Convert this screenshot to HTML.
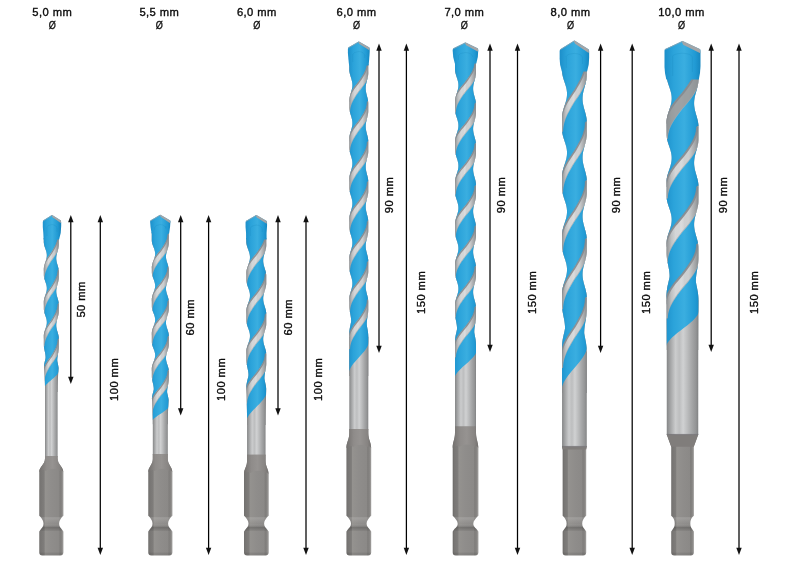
<!DOCTYPE html>
<html><head><meta charset="utf-8"><title>Drill bits</title>
<style>
html,body{margin:0;padding:0;background:#fff}
svg{display:block}
.t{font-family:"Liberation Sans",sans-serif;font-size:11.2px;letter-spacing:0.45px;fill:#0c0c0c;stroke:#0c0c0c;stroke-width:0.36px}
.o{font-family:"Liberation Sans",sans-serif;font-size:10.6px;fill:#0c0c0c;stroke:#0c0c0c;stroke-width:0.3px}
</style></head><body>
<svg width="800" height="566" viewBox="0 0 800 566">
<defs>
<linearGradient id="cyl0" gradientUnits="userSpaceOnUse" x1="45" y1="0" x2="57.6" y2="0"><stop offset="0" stop-color="#858687"/><stop offset="0.11" stop-color="#a2a3a4"/><stop offset="0.28" stop-color="#cbcccd"/><stop offset="0.40" stop-color="#bdbebf"/><stop offset="0.52" stop-color="#d0d1d2"/><stop offset="0.66" stop-color="#bbbcbd"/><stop offset="0.80" stop-color="#a5a6a7"/><stop offset="0.93" stop-color="#939495"/><stop offset="1" stop-color="#818283"/></linearGradient>
<linearGradient id="hex0" gradientUnits="userSpaceOnUse" x1="39.3" y1="0" x2="63.3" y2="0"><stop offset="0" stop-color="#686664"/><stop offset="0.05" stop-color="#777573"/><stop offset="0.2" stop-color="#7f7d7b"/><stop offset="0.245" stop-color="#94928f"/><stop offset="0.5" stop-color="#8f8d8b"/><stop offset="0.82" stop-color="#8b8987"/><stop offset="0.86" stop-color="#7f7d7b"/><stop offset="0.93" stop-color="#868482"/><stop offset="0.975" stop-color="#989694"/><stop offset="1" stop-color="#7a7876"/></linearGradient>
<linearGradient id="neck0" gradientUnits="userSpaceOnUse" x1="39.3" y1="0" x2="63.3" y2="0"><stop offset="0" stop-color="#73706e"/><stop offset="0.3" stop-color="#8f8c8a"/><stop offset="0.55" stop-color="#969391"/><stop offset="0.85" stop-color="#878482"/><stop offset="1" stop-color="#73706e"/></linearGradient>
<linearGradient id="gr0" x1="0" y1="0" x2="0" y2="1"><stop offset="0" stop-color="#fff" stop-opacity="0.16"/><stop offset="0.45" stop-color="#fff" stop-opacity="0.02"/><stop offset="0.75" stop-color="#000" stop-opacity="0.2"/><stop offset="1" stop-color="#000" stop-opacity="0.05"/></linearGradient>
<clipPath id="hc0"><path d="M45 456 L45 458.5 C45 464.57 39.3 466.6 39.3 472 L39.3 515.8 L40.8 517.3 C42.3 519.3 43.5 520.8 43.5 523.8 C43.5 526.8 41.8 528 40.3 530 L39.3 531.5 L39.3 552.6 Q39.3 555.6 42.3 555.6 L60.3 555.6 Q63.3 555.6 63.3 552.6 L63.3 531.5 L62.3 530 C60.8 528 59.1 526.8 59.1 523.8 C59.1 520.8 60.3 519.3 61.8 517.3 L63.3 515.8 L63.3 472 C63.3 466.6 57.6 464.57 57.6 458.5 L57.6 456Z"/></clipPath>
<linearGradient id="blue0" gradientUnits="userSpaceOnUse" x1="42.1" y1="0" x2="60.5" y2="0"><stop offset="0" stop-color="#1c8fca"/><stop offset="0.25" stop-color="#2ba3da"/><stop offset="0.55" stop-color="#3aaee0"/><stop offset="0.85" stop-color="#219ad4"/><stop offset="1" stop-color="#1787c0"/></linearGradient>
<clipPath id="clip0"><polygon points="58.8,238 58.8,239 58.8,240 58.8,241 58.8,242 58.8,243 58.8,244 58.79,245 58.72,246 58.59,247 58.4,248 58.17,249 57.9,250 57.61,251 57.32,252 57.04,253 56.78,254 56.56,255 56.39,256 56.27,257 56.23,258 56.24,259 56.33,260 56.47,261 56.67,262 56.91,263 57.19,264 57.48,265 57.77,266 58.05,267 58.3,268 58.51,269 58.67,270 58.77,271 58.8,272 58.8,273 58.8,274 58.8,275 58.8,276 58.8,277 58.79,278 58.72,279 58.58,280 58.39,281 58.16,282 57.89,283 57.6,284 57.31,285 57.03,286 56.77,287 56.55,288 56.38,289 56.27,290 56.23,291 56.25,292 56.33,293 56.48,294 56.68,295 56.92,296 57.2,297 57.49,298 57.78,299 58.06,300 58.31,301 58.51,302 58.67,303 58.77,304 58.8,305 58.8,306 58.8,307 58.8,308 58.8,309 58.8,310 58.8,311 58.78,312 58.71,313 58.57,314 58.37,315 58.13,316 57.86,317 57.57,318 57.28,319 57,320 56.75,321 56.53,322 56.37,323 56.26,324 56.22,325 56.25,326 56.34,327 56.5,328 56.7,329 56.95,330 57.22,331 57.52,332 57.81,333 58.08,334 58.33,335 58.53,336 58.68,337 58.77,338 58.8,339 58.8,340 58.8,341 58.8,342 58.8,343 58.8,344 58.8,345 58.8,346 58.8,347 58.77,348 58.71,349 58.6,350 58.47,351 58.32,352 58.15,353 57.97,354 57.8,355 57.64,356 57.5,357 57.39,358 57.3,359 57.26,360 57.31,361 57.49,362 57.68,363 57.88,364 58.09,365 58.27,366 58.44,367 58.57,368 58.52,369 58.46,370 58.4,371 58.34,372 58.27,373 58.21,374 58.14,375 58.08,376 58.02,377 57.96,378 57.9,379 57.84,380 57.79,381 57.74,382 57.7,383 57.67,384 57.64,385 57.62,386 57.6,387 57.6,388 57.6,389 57.6,390 57.6,391 57.6,392 45,392 45,391 45,390 45,389 45,388 45,387 44.98,386 44.96,385 44.93,384 44.9,383 44.86,382 44.81,381 44.76,380 44.7,379 44.64,378 44.58,377 44.52,376 44.46,375 44.39,374 44.33,373 44.26,372 44.2,371 44.14,370 44.08,369 44.03,368 43.98,367 43.97,366 44.1,365 44.27,364 44.47,363 44.69,362 44.93,361 45.17,360 45.39,359 45.59,358 45.6,357 45.54,356 45.43,355 45.29,354 45.12,353 44.92,352 44.72,351 44.51,350 44.32,349 44.14,348 44,347 43.89,346 43.82,345 43.8,344 43.8,343 43.8,342 43.8,341 43.8,340 43.8,339 43.8,338 43.8,337 43.8,336 43.85,335 43.97,334 44.17,333 44.42,332 44.72,331 45.05,330 45.39,329 45.73,328 46.05,327 46.33,326 46.55,325 46.72,324 46.81,323 46.82,322 46.75,321 46.61,320 46.41,319 46.14,318 45.84,317 45.5,316 45.16,315 44.82,314 44.51,313 44.24,312 44.03,311 43.88,310 43.81,309 43.8,308 43.8,307 43.8,306 43.8,305 43.8,304 43.8,303 43.8,302 43.86,301 43.99,300 44.19,299 44.45,298 44.75,297 45.08,296 45.43,295 45.76,294 46.08,293 46.35,292 46.57,291 46.73,290 46.81,289 46.82,288 46.74,287 46.6,286 46.38,285 46.11,284 45.8,283 45.47,282 45.13,281 44.79,280 44.48,279 44.22,278 44.01,277 43.87,276 43.8,275 43.8,274 43.8,273 43.8,272 43.8,271 43.8,270 43.8,269 43.86,268 44,267 44.2,266 44.46,265 44.76,264 45.09,263 45.44,262 45.77,261 46.09,260 46.36,259 46.58,258 46.73,257 46.81,256 46.82,255 46.74,254 46.59,253 46.38,252 46.1,251 45.79,250 45.46,249 45.11,248 44.78,247 44.47,246 44.21,245 44.01,244 43.87,243 43.8,242 43.8,241 43.8,240 43.8,239 43.8,238"/></clipPath>
<linearGradient id="st0" gradientUnits="userSpaceOnUse" x1="43.8" y1="0" x2="58.8" y2="0"><stop offset="0" stop-color="#9a9ea1"/><stop offset="0.15" stop-color="#cfd2d4"/><stop offset="0.45" stop-color="#eceeef"/><stop offset="0.55" stop-color="#d0d3d5"/><stop offset="0.7" stop-color="#e2e4e5"/><stop offset="0.88" stop-color="#b2b5b7"/><stop offset="1" stop-color="#8e9295"/></linearGradient>
<linearGradient id="cyl1" gradientUnits="userSpaceOnUse" x1="152.8" y1="0" x2="167.8" y2="0"><stop offset="0" stop-color="#858687"/><stop offset="0.11" stop-color="#a2a3a4"/><stop offset="0.28" stop-color="#cbcccd"/><stop offset="0.40" stop-color="#bdbebf"/><stop offset="0.52" stop-color="#d0d1d2"/><stop offset="0.66" stop-color="#bbbcbd"/><stop offset="0.80" stop-color="#a5a6a7"/><stop offset="0.93" stop-color="#939495"/><stop offset="1" stop-color="#818283"/></linearGradient>
<linearGradient id="hex1" gradientUnits="userSpaceOnUse" x1="148.3" y1="0" x2="172.3" y2="0"><stop offset="0" stop-color="#686664"/><stop offset="0.05" stop-color="#777573"/><stop offset="0.2" stop-color="#7f7d7b"/><stop offset="0.245" stop-color="#94928f"/><stop offset="0.5" stop-color="#8f8d8b"/><stop offset="0.82" stop-color="#8b8987"/><stop offset="0.86" stop-color="#7f7d7b"/><stop offset="0.93" stop-color="#868482"/><stop offset="0.975" stop-color="#989694"/><stop offset="1" stop-color="#7a7876"/></linearGradient>
<linearGradient id="neck1" gradientUnits="userSpaceOnUse" x1="148.3" y1="0" x2="172.3" y2="0"><stop offset="0" stop-color="#73706e"/><stop offset="0.3" stop-color="#8f8c8a"/><stop offset="0.55" stop-color="#969391"/><stop offset="0.85" stop-color="#878482"/><stop offset="1" stop-color="#73706e"/></linearGradient>
<linearGradient id="gr1" x1="0" y1="0" x2="0" y2="1"><stop offset="0" stop-color="#fff" stop-opacity="0.16"/><stop offset="0.45" stop-color="#fff" stop-opacity="0.02"/><stop offset="0.75" stop-color="#000" stop-opacity="0.2"/><stop offset="1" stop-color="#000" stop-opacity="0.05"/></linearGradient>
<clipPath id="hc1"><path d="M152.8 454 L152.8 459 C152.8 464.85 148.3 466.8 148.3 472 L148.3 515.8 L149.8 517.3 C151.3 519.3 152.5 520.8 152.5 523.8 C152.5 526.8 150.8 528 149.3 530 L148.3 531.5 L148.3 552.6 Q148.3 555.6 151.3 555.6 L169.3 555.6 Q172.3 555.6 172.3 552.6 L172.3 531.5 L171.3 530 C169.8 528 168.1 526.8 168.1 523.8 C168.1 520.8 169.3 519.3 170.8 517.3 L172.3 515.8 L172.3 472 C172.3 466.8 167.8 464.85 167.8 459 L167.8 454Z"/></clipPath>
<linearGradient id="blue1" gradientUnits="userSpaceOnUse" x1="150.05" y1="0" x2="170.55" y2="0"><stop offset="0" stop-color="#1c8fca"/><stop offset="0.25" stop-color="#2ba3da"/><stop offset="0.55" stop-color="#3aaee0"/><stop offset="0.85" stop-color="#219ad4"/><stop offset="1" stop-color="#1787c0"/></linearGradient>
<clipPath id="clip1"><polygon points="168.8,232 168.8,233 168.8,234.01 168.8,235.01 168.8,236.01 168.8,237.01 168.8,238.02 168.8,239.02 168.8,240.02 168.8,241.02 168.8,242.03 168.8,243.03 168.76,244.03 168.64,245.03 168.46,246.04 168.22,247.04 167.93,248.04 167.62,249.04 167.29,250.05 166.97,251.05 166.66,252.05 166.4,253.05 166.19,254.06 166.04,255.06 165.96,256.06 165.96,257.07 166.03,258.07 166.17,259.07 166.38,260.07 166.64,261.08 166.93,262.08 167.26,263.08 167.58,264.08 167.9,265.09 168.19,266.09 168.44,267.09 168.63,268.09 168.75,269.1 168.8,270.1 168.8,271.1 168.8,272.1 168.8,273.11 168.8,274.11 168.8,275.11 168.74,276.11 168.61,277.12 168.41,278.12 168.16,279.12 167.87,280.12 167.55,281.13 167.22,282.13 166.9,283.13 166.61,284.14 166.35,285.14 166.15,286.14 166.02,287.14 165.95,288.15 165.96,289.15 166.05,290.15 166.21,291.15 166.43,292.16 166.69,293.16 167,294.16 167.32,295.16 167.65,296.17 167.96,297.17 168.25,298.17 168.48,299.17 168.66,300.18 168.77,301.18 168.8,302.18 168.8,303.18 168.8,304.19 168.8,305.19 168.8,306.19 168.8,307.2 168.8,308.2 168.8,309.2 168.73,310.2 168.59,311.21 168.39,312.21 168.14,313.21 167.84,314.21 167.52,315.22 167.19,316.22 166.87,317.22 166.58,318.22 166.33,319.23 166.14,320.23 166.01,321.23 165.95,322.23 165.97,323.24 166.06,324.24 166.22,325.24 166.45,326.24 166.72,327.25 167.03,328.25 167.35,329.25 167.68,330.26 167.99,331.26 168.27,332.26 168.5,333.26 168.67,334.27 168.77,335.27 168.8,336.27 168.8,337.27 168.8,338.28 168.8,339.28 168.8,340.28 168.8,341.28 168.8,342.29 168.8,343.29 168.8,344.29 168.77,345.29 168.67,346.3 168.5,347.3 168.27,348.3 168,349.3 167.69,350.31 167.36,351.31 167.03,352.31 166.73,353.32 166.45,354.32 166.23,355.32 166.06,356.32 165.97,357.33 165.95,358.33 166.01,359.33 166.13,360.33 166.33,361.34 166.58,362.34 166.87,363.34 167.19,364.34 167.51,365.35 167.84,366.35 168.13,367.35 168.39,368.35 168.59,369.36 168.73,370.36 168.79,371.36 168.8,372.36 168.8,373.37 168.8,374.37 168.8,375.37 168.8,376.38 168.8,377.38 168.8,378.38 168.78,379.38 168.72,380.39 168.61,381.39 168.47,382.39 168.3,383.39 168.11,384.4 167.92,385.4 167.72,386.4 167.54,387.4 167.38,388.41 167.25,389.41 167.15,390.41 167.1,391.41 167.14,392.42 167.33,393.42 167.55,394.42 167.78,395.42 168,396.43 168.22,397.43 168.4,398.43 168.55,399.43 168.58,400.44 168.54,401.44 168.49,402.44 168.44,403.45 168.39,404.45 168.34,405.45 168.28,406.45 168.23,407.46 168.18,408.46 168.13,409.46 168.08,410.46 168.03,411.47 167.99,412.47 167.95,413.47 167.91,414.47 167.88,415.48 167.85,416.48 167.83,417.48 167.81,418.48 167.8,419.49 167.8,420.49 167.8,421.49 167.8,422.49 167.8,423.5 167.8,424.5 152.8,424.5 152.8,423.5 152.8,422.49 152.8,421.49 152.8,420.49 152.8,419.49 152.79,418.48 152.77,417.48 152.75,416.48 152.72,415.48 152.69,414.47 152.65,413.47 152.61,412.47 152.57,411.47 152.52,410.46 152.47,409.46 152.42,408.46 152.37,407.46 152.32,406.45 152.26,405.45 152.21,404.45 152.16,403.45 152.11,402.44 152.06,401.44 152.02,400.44 151.98,399.43 151.94,398.43 151.99,397.43 152.13,396.43 152.32,395.42 152.55,394.42 152.81,393.42 153.08,392.42 153.34,391.41 153.59,390.41 153.8,389.41 153.78,388.41 153.71,387.4 153.58,386.4 153.42,385.4 153.22,384.4 153,383.39 152.77,382.39 152.54,381.39 152.33,380.39 152.14,379.38 151.98,378.38 151.87,377.38 151.81,376.38 151.8,375.37 151.8,374.37 151.8,373.37 151.8,372.36 151.8,371.36 151.8,370.36 151.8,369.36 151.82,368.35 151.92,367.35 152.1,366.35 152.36,365.35 152.68,364.34 153.03,363.34 153.42,362.34 153.8,361.34 154.17,360.33 154.5,359.33 154.77,358.33 154.98,357.33 155.11,356.32 155.15,355.32 155.1,354.32 154.97,353.32 154.75,352.31 154.47,351.31 154.14,350.31 153.77,349.3 153.38,348.3 153,347.3 152.65,346.3 152.34,345.29 152.09,344.29 151.91,343.29 151.81,342.29 151.8,341.28 151.8,340.28 151.8,339.28 151.8,338.28 151.8,337.27 151.8,336.27 151.8,335.27 151.8,334.27 151.8,333.26 151.86,332.26 152,331.26 152.22,330.26 152.51,329.25 152.85,328.25 153.22,327.25 153.61,326.24 153.98,325.24 154.33,324.24 154.64,323.24 154.88,322.23 155.05,321.23 155.14,320.23 155.14,319.23 155.04,318.22 154.87,317.22 154.62,316.22 154.31,315.22 153.96,314.21 153.58,313.21 153.19,312.21 152.82,311.21 152.49,310.2 152.21,309.2 151.99,308.2 151.85,307.2 151.8,306.19 151.8,305.19 151.8,304.19 151.8,303.18 151.8,302.18 151.8,301.18 151.8,300.18 151.8,299.17 151.87,298.17 152.02,297.17 152.25,296.17 152.54,295.16 152.88,294.16 153.25,293.16 153.64,292.16 154.02,291.15 154.36,290.15 154.66,289.15 154.9,288.15 155.06,287.14 155.14,286.14 155.13,285.14 155.03,284.14 154.85,283.13 154.6,282.13 154.28,281.13 153.93,280.12 153.55,279.12 153.16,278.12 152.79,277.12 152.46,276.11 152.18,275.11 151.97,274.11 151.84,273.11 151.8,272.1 151.8,271.1 151.8,270.1 151.8,269.1 151.8,268.09 151.81,267.09 151.89,266.09 152.06,265.09 152.3,264.08 152.61,263.08 152.96,262.08 153.33,261.08 153.72,260.07 154.09,259.07 154.43,258.07 154.72,257.07 154.94,256.06 155.09,255.06 155.15,254.06 155.12,253.05 155,252.05 154.8,251.05 154.54,250.05 154.21,249.04 153.85,248.04 153.47,247.04 153.08,246.04 152.72,245.03 152.4,244.03 152.13,243.03 151.94,242.03 151.83,241.02 151.8,240.02 151.8,239.02 151.8,238.02 151.8,237.01 151.8,236.01 151.8,235.01 151.8,234.01 151.8,233 151.8,232"/></clipPath>
<linearGradient id="st1" gradientUnits="userSpaceOnUse" x1="151.8" y1="0" x2="168.8" y2="0"><stop offset="0" stop-color="#9a9ea1"/><stop offset="0.15" stop-color="#cfd2d4"/><stop offset="0.45" stop-color="#eceeef"/><stop offset="0.55" stop-color="#d0d3d5"/><stop offset="0.7" stop-color="#e2e4e5"/><stop offset="0.88" stop-color="#b2b5b7"/><stop offset="1" stop-color="#8e9295"/></linearGradient>
<linearGradient id="cyl2" gradientUnits="userSpaceOnUse" x1="247.05" y1="0" x2="265.55" y2="0"><stop offset="0" stop-color="#858687"/><stop offset="0.11" stop-color="#a2a3a4"/><stop offset="0.28" stop-color="#cbcccd"/><stop offset="0.40" stop-color="#bdbebf"/><stop offset="0.52" stop-color="#d0d1d2"/><stop offset="0.66" stop-color="#bbbcbd"/><stop offset="0.80" stop-color="#a5a6a7"/><stop offset="0.93" stop-color="#939495"/><stop offset="1" stop-color="#818283"/></linearGradient>
<linearGradient id="hex2" gradientUnits="userSpaceOnUse" x1="244.05" y1="0" x2="268.55" y2="0"><stop offset="0" stop-color="#686664"/><stop offset="0.05" stop-color="#777573"/><stop offset="0.2" stop-color="#7f7d7b"/><stop offset="0.245" stop-color="#94928f"/><stop offset="0.5" stop-color="#8f8d8b"/><stop offset="0.82" stop-color="#8b8987"/><stop offset="0.86" stop-color="#7f7d7b"/><stop offset="0.93" stop-color="#868482"/><stop offset="0.975" stop-color="#989694"/><stop offset="1" stop-color="#7a7876"/></linearGradient>
<linearGradient id="neck2" gradientUnits="userSpaceOnUse" x1="244.05" y1="0" x2="268.55" y2="0"><stop offset="0" stop-color="#73706e"/><stop offset="0.3" stop-color="#8f8c8a"/><stop offset="0.55" stop-color="#969391"/><stop offset="0.85" stop-color="#878482"/><stop offset="1" stop-color="#73706e"/></linearGradient>
<linearGradient id="gr2" x1="0" y1="0" x2="0" y2="1"><stop offset="0" stop-color="#fff" stop-opacity="0.16"/><stop offset="0.45" stop-color="#fff" stop-opacity="0.02"/><stop offset="0.75" stop-color="#000" stop-opacity="0.2"/><stop offset="1" stop-color="#000" stop-opacity="0.05"/></linearGradient>
<clipPath id="hc2"><path d="M247.05 454.8 L247.05 461 C247.05 466.85 244.05 468.8 244.05 474 L244.05 515.8 L245.55 517.3 C247.05 519.3 248.5 520.8 248.5 523.8 C248.5 526.8 246.55 528 245.05 530 L244.05 531.5 L244.05 552.6 Q244.05 555.6 247.05 555.6 L265.55 555.6 Q268.55 555.6 268.55 552.6 L268.55 531.5 L267.55 530 C266.05 528 264.1 526.8 264.1 523.8 C264.1 520.8 265.55 519.3 267.05 517.3 L268.55 515.8 L268.55 474 C268.55 468.8 265.55 466.85 265.55 461 L265.55 454.8Z"/></clipPath>
<linearGradient id="blue2" gradientUnits="userSpaceOnUse" x1="245.55" y1="0" x2="267.05" y2="0"><stop offset="0" stop-color="#1c8fca"/><stop offset="0.25" stop-color="#2ba3da"/><stop offset="0.55" stop-color="#3aaee0"/><stop offset="0.85" stop-color="#219ad4"/><stop offset="1" stop-color="#1787c0"/></linearGradient>
<clipPath id="clip2"><polygon points="266.3,238 266.3,239 266.3,240 266.3,241 266.3,242 266.3,243 266.3,244 266.3,245 266.24,246 266.13,247 265.97,248 265.75,249 265.5,250 265.22,251 264.92,252 264.61,253 264.31,254 264.02,255 263.76,256 263.54,257 263.36,258 263.24,259 263.18,260 263.18,261 263.24,262 263.35,263 263.52,264 263.74,265 264,266 264.28,267 264.58,268 264.89,269 265.19,270 265.48,271 265.73,272 265.95,273 266.12,274 266.24,275 266.29,276 266.3,277 266.3,278 266.3,279 266.3,280 266.3,281 266.3,282 266.3,283 266.25,284 266.15,285 265.99,286 265.78,287 265.53,288 265.25,289 264.95,290 264.64,291 264.34,292 264.05,293 263.79,294 263.56,295 263.38,296 263.25,297 263.18,298 263.18,299 263.23,300 263.34,301 263.5,302 263.72,303 263.97,304 264.25,305 264.55,306 264.86,307 265.16,308 265.45,309 265.71,310 265.93,311 266.11,312 266.23,313 266.29,314 266.3,315 266.3,316 266.3,317 266.3,318 266.3,319 266.3,320 266.3,321 266.3,322 266.3,323 266.28,324 266.21,325 266.07,326 265.89,327 265.66,328 265.39,329 265.1,330 264.8,331 264.49,332 264.19,333 263.91,334 263.67,335 263.46,336 263.31,337 263.21,338 263.17,339 263.19,340 263.28,341 263.41,342 263.6,343 263.84,344 264.11,345 264.4,346 264.7,347 265.01,348 265.31,349 265.58,350 265.82,351 266.02,352 266.17,353 266.27,354 266.3,355 266.3,356 266.3,357 266.3,358 266.3,359 266.3,360 266.3,361 266.3,362 266.3,363 266.27,364 266.21,365 266.11,366 265.99,367 265.84,368 265.67,369 265.49,370 265.3,371 265.12,372 264.95,373 264.79,374 264.66,375 264.55,376 264.47,377 264.43,378 264.48,379 264.65,380 264.85,381 265.06,382 265.28,383 265.49,384 265.68,385 265.86,386 266,387 266.12,388 266.18,389 266.16,390 266.14,391 266.12,392 266.09,393 266.07,394 266.04,395 266.02,396 265.99,397 265.97,398 265.94,399 265.92,400 265.89,401 265.86,402 265.84,403 265.81,404 265.79,405 265.76,406 265.74,407 265.72,408 265.69,409 265.67,410 265.65,411 265.64,412 265.62,413 265.6,414 265.59,415 265.58,416 265.57,417 265.56,418 265.55,419 265.55,420 265.55,421 265.55,422 265.55,423 265.55,424 265.55,425 247.05,425 247.05,424 247.05,423 247.05,422 247.05,421 247.05,420 247.05,419 247.04,418 247.03,417 247.02,416 247.01,415 247,414 246.98,413 246.96,412 246.95,411 246.93,410 246.91,409 246.88,408 246.86,407 246.84,406 246.81,405 246.79,404 246.76,403 246.74,402 246.71,401 246.68,400 246.66,399 246.63,398 246.61,397 246.58,396 246.56,395 246.53,394 246.51,393 246.48,392 246.46,391 246.44,390 246.42,389 246.4,388 246.38,387 246.4,386 246.49,385 246.62,384 246.79,383 246.98,382 247.21,381 247.45,380 247.71,379 247.96,378 248.19,377 248.4,376 248.5,375 248.46,374 248.38,373 248.25,372 248.1,371 247.92,370 247.72,369 247.51,368 247.29,367 247.08,366 246.88,365 246.7,364 246.54,363 246.43,362 246.34,361 246.3,360 246.3,359 246.3,358 246.3,357 246.3,356 246.3,355 246.3,354 246.3,353 246.3,352 246.33,351 246.42,350 246.59,349 246.81,348 247.09,347 247.4,346 247.75,345 248.11,344 248.47,343 248.82,342 249.14,341 249.42,340 249.65,339 249.83,338 249.93,337 249.97,336 249.94,335 249.84,334 249.67,333 249.44,332 249.16,331 248.84,330 248.49,329 248.13,328 247.77,327 247.43,326 247.11,325 246.83,324 246.6,323 246.43,322 246.33,321 246.3,320 246.3,319 246.3,318 246.3,317 246.3,316 246.3,315 246.3,314 246.3,313 246.3,312 246.3,311 246.37,310 246.5,309 246.69,308 246.94,307 247.24,306 247.57,305 247.93,304 248.29,303 248.64,302 248.98,301 249.28,300 249.54,299 249.75,298 249.89,297 249.96,296 249.96,295 249.9,294 249.76,293 249.56,292 249.3,291 249,290 248.67,289 248.31,288 247.95,287 247.6,286 247.26,285 246.96,284 246.71,283 246.51,282 246.37,281 246.31,280 246.3,279 246.3,278 246.3,277 246.3,276 246.3,275 246.3,274 246.3,273 246.36,272 246.48,271 246.67,270 246.91,269 247.21,268 247.54,267 247.89,266 248.25,265 248.61,264 248.95,263 249.25,262 249.52,261 249.73,260 249.88,259 249.96,258 249.97,257 249.91,256 249.78,255 249.58,254 249.33,253 249.04,252 248.7,251 248.35,250 247.99,249 247.63,248 247.3,247 246.99,246 246.73,245 246.53,244 246.39,243 246.31,242 246.3,241 246.3,240 246.3,239 246.3,238"/></clipPath>
<linearGradient id="st2" gradientUnits="userSpaceOnUse" x1="246.3" y1="0" x2="266.3" y2="0"><stop offset="0" stop-color="#9a9ea1"/><stop offset="0.15" stop-color="#cfd2d4"/><stop offset="0.45" stop-color="#eceeef"/><stop offset="0.55" stop-color="#d0d3d5"/><stop offset="0.7" stop-color="#e2e4e5"/><stop offset="0.88" stop-color="#b2b5b7"/><stop offset="1" stop-color="#8e9295"/></linearGradient>
<linearGradient id="cyl3" gradientUnits="userSpaceOnUse" x1="349.3" y1="0" x2="368.3" y2="0"><stop offset="0" stop-color="#858687"/><stop offset="0.11" stop-color="#a2a3a4"/><stop offset="0.28" stop-color="#cbcccd"/><stop offset="0.40" stop-color="#bdbebf"/><stop offset="0.52" stop-color="#d0d1d2"/><stop offset="0.66" stop-color="#bbbcbd"/><stop offset="0.80" stop-color="#a5a6a7"/><stop offset="0.93" stop-color="#939495"/><stop offset="1" stop-color="#818283"/></linearGradient>
<linearGradient id="hex3" gradientUnits="userSpaceOnUse" x1="346.45" y1="0" x2="371.15" y2="0"><stop offset="0" stop-color="#686664"/><stop offset="0.05" stop-color="#777573"/><stop offset="0.2" stop-color="#7f7d7b"/><stop offset="0.245" stop-color="#94928f"/><stop offset="0.5" stop-color="#8f8d8b"/><stop offset="0.82" stop-color="#8b8987"/><stop offset="0.86" stop-color="#7f7d7b"/><stop offset="0.93" stop-color="#868482"/><stop offset="0.975" stop-color="#989694"/><stop offset="1" stop-color="#7a7876"/></linearGradient>
<linearGradient id="neck3" gradientUnits="userSpaceOnUse" x1="346.45" y1="0" x2="371.15" y2="0"><stop offset="0" stop-color="#73706e"/><stop offset="0.3" stop-color="#8f8c8a"/><stop offset="0.55" stop-color="#969391"/><stop offset="0.85" stop-color="#878482"/><stop offset="1" stop-color="#73706e"/></linearGradient>
<linearGradient id="gr3" x1="0" y1="0" x2="0" y2="1"><stop offset="0" stop-color="#fff" stop-opacity="0.16"/><stop offset="0.45" stop-color="#fff" stop-opacity="0.02"/><stop offset="0.75" stop-color="#000" stop-opacity="0.2"/><stop offset="1" stop-color="#000" stop-opacity="0.05"/></linearGradient>
<clipPath id="hc3"><path d="M349.3 429 L349.3 433 C349.3 439.75 346.45 442 346.45 448 L346.45 515.8 L347.95 517.3 C349.45 519.3 351 520.8 351 523.8 C351 526.8 348.95 528 347.45 530 L346.45 531.5 L346.45 552.6 Q346.45 555.6 349.45 555.6 L368.15 555.6 Q371.15 555.6 371.15 552.6 L371.15 531.5 L370.15 530 C368.65 528 366.6 526.8 366.6 523.8 C366.6 520.8 368.15 519.3 369.65 517.3 L371.15 515.8 L371.15 448 C371.15 442 368.3 439.75 368.3 433 L368.3 429Z"/></clipPath>
<linearGradient id="blue3" gradientUnits="userSpaceOnUse" x1="347.9" y1="0" x2="369.7" y2="0"><stop offset="0" stop-color="#1c8fca"/><stop offset="0.25" stop-color="#2ba3da"/><stop offset="0.55" stop-color="#3aaee0"/><stop offset="0.85" stop-color="#219ad4"/><stop offset="1" stop-color="#1787c0"/></linearGradient>
<clipPath id="clip3"><polygon points="368.3,64 368.3,65 368.3,66 368.3,67 368.3,68 368.3,69 368.3,70 368.3,71 368.3,72 368.29,73 368.23,74 368.13,75 367.98,76 367.79,77 367.57,78 367.33,79 367.07,80 366.81,81 366.56,82 366.32,83 366.11,84 365.94,85 365.8,86 365.72,87 365.68,88 365.69,89 365.76,90 365.87,91 366.03,92 366.22,93 366.45,94 366.69,95 366.95,96 367.21,97 367.46,98 367.69,99 367.9,100 368.06,101 368.19,102 368.27,103 368.3,104 368.3,105 368.3,106 368.3,107 368.3,108 368.3,109 368.3,110 368.29,111 368.24,112 368.14,113 368,114 367.81,115 367.6,116 367.36,117 367.1,118 366.84,119 366.59,120 366.35,121 366.14,122 365.96,123 365.82,124 365.72,125 365.68,126 365.69,127 365.75,128 365.86,129 366.01,130 366.2,131 366.42,132 366.66,133 366.92,134 367.18,135 367.43,136 367.67,137 367.87,138 368.05,139 368.18,140 368.26,141 368.3,142 368.3,143 368.3,144 368.3,145 368.3,146 368.3,147 368.3,148 368.3,149 368.3,150 368.3,151 368.26,152 368.17,153 368.03,154 367.85,155 367.64,156 367.41,157 367.15,158 366.89,159 366.64,160 366.39,161 366.18,162 365.99,163 365.84,164 365.74,165 365.69,166 365.68,167 365.73,168 365.83,169 365.97,170 366.16,171 366.37,172 366.61,173 366.87,174 367.13,175 367.38,176 367.62,177 367.84,178 368.02,179 368.16,180 368.25,181 368.3,182 368.3,183 368.3,184 368.3,185 368.3,186 368.3,187 368.3,188 368.3,189 368.3,190 368.3,191 368.26,192 368.17,193 368.03,194 367.85,195 367.64,196 367.41,197 367.15,198 366.89,199 366.64,200 366.39,201 366.18,202 365.99,203 365.84,204 365.74,205 365.69,206 365.68,207 365.73,208 365.83,209 365.97,210 366.16,211 366.37,212 366.61,213 366.87,214 367.13,215 367.38,216 367.62,217 367.84,218 368.02,219 368.16,220 368.25,221 368.3,222 368.3,223 368.3,224 368.3,225 368.3,226 368.3,227 368.3,228 368.3,229 368.3,230 368.28,231 368.21,232 368.09,233 367.93,234 367.73,235 367.5,236 367.25,237 367,238 366.74,239 366.49,240 366.26,241 366.06,242 365.9,243 365.77,244 365.7,245 365.68,246 365.71,247 365.79,248 365.91,249 366.08,250 366.28,251 366.52,252 366.77,253 367.02,254 367.28,255 367.53,256 367.75,257 367.95,258 368.11,259 368.22,260 368.28,261 368.3,262 368.3,263 368.3,264 368.3,265 368.3,266 368.3,267 368.3,268 368.3,269 368.3,270 368.3,271 368.26,272 368.17,273 368.03,274 367.85,275 367.64,276 367.41,277 367.15,278 366.89,279 366.64,280 366.39,281 366.18,282 365.99,283 365.84,284 365.74,285 365.69,286 365.68,287 365.73,288 365.83,289 365.97,290 366.16,291 366.37,292 366.61,293 366.87,294 367.13,295 367.38,296 367.62,297 367.84,298 368.02,299 368.16,300 368.25,301 368.3,302 368.3,303 368.3,304 368.3,305 368.3,306 368.3,307 368.3,308 368.3,309 368.27,310 368.22,311 368.14,312 368.03,313 367.91,314 367.76,315 367.61,316 367.46,317 367.3,318 367.16,319 367.03,320 366.91,321 366.83,322 366.76,323 366.73,324 366.79,325 366.94,326 367.11,327 367.28,328 367.47,329 367.64,330 367.8,331 367.95,332 368.07,333 368.16,334 368.23,335 368.27,336 368.3,337 368.3,338 368.3,339 368.3,340 368.3,341 368.3,342 368.3,343 368.3,344 368.3,345 368.3,346 368.3,347 368.3,348 368.3,349 368.3,350 368.3,351 368.3,352 368.3,353 368.3,354 368.3,355 368.3,356 368.3,357 368.3,358 368.3,359 368.3,360 368.3,361 368.3,362 368.3,363 368.3,364 368.3,365 368.3,366 368.3,367 368.3,368 368.3,369 368.3,370 368.3,371 368.3,372 368.3,373 368.3,374 368.3,375 368.3,376 349.3,376 349.3,375 349.3,374 349.3,373 349.3,372 349.3,371 349.3,370 349.3,369 349.3,368 349.3,367 349.3,366 349.3,365 349.3,364 349.3,363 349.3,362 349.3,361 349.3,360 349.3,359 349.3,358 349.3,357 349.3,356 349.3,355 349.3,354 349.3,353 349.3,352 349.3,351 349.3,350 349.3,349 349.3,348 349.3,347 349.3,346 349.3,345 349.3,344 349.3,343 349.3,342 349.3,341 349.3,340 349.3,339 349.3,338 349.3,337 349.3,336 349.3,335 349.3,334 349.33,333 349.37,332 349.45,331 349.55,330 349.69,329 349.85,328 350.04,327 350.24,326 350.46,325 350.67,324 350.87,323 351.05,322 351.14,321 351.11,320 351.05,319 350.95,318 350.82,317 350.67,316 350.5,315 350.32,314 350.14,313 349.96,312 349.79,311 349.64,310 349.51,309 349.41,308 349.34,307 349.3,306 349.3,305 349.3,304 349.3,303 349.3,302 349.3,301 349.3,300 349.3,299 349.34,298 349.45,297 349.6,296 349.81,295 350.05,294 350.33,293 350.62,292 350.93,291 351.23,290 351.52,289 351.78,288 352,287 352.17,286 352.3,285 352.37,284 352.37,283 352.32,282 352.21,281 352.04,280 351.83,279 351.58,278 351.3,277 351,276 350.7,275 350.4,274 350.12,273 349.86,272 349.65,271 349.48,270 349.36,269 349.31,268 349.3,267 349.3,266 349.3,265 349.3,264 349.3,263 349.3,262 349.3,261 349.3,260 349.3,259 349.31,258 349.38,257 349.5,256 349.68,255 349.9,254 350.16,253 350.45,252 350.75,251 351.05,250 351.35,249 351.62,248 351.87,247 352.07,246 352.23,245 352.33,244 352.38,243 352.36,242 352.28,241 352.15,240 351.97,239 351.74,238 351.47,237 351.18,236 350.88,235 350.58,234 350.28,233 350.01,232 349.77,231 349.57,230 349.43,229 349.33,228 349.3,227 349.3,226 349.3,225 349.3,224 349.3,223 349.3,222 349.3,221 349.3,220 349.3,219 349.34,218 349.45,217 349.6,216 349.81,215 350.05,214 350.33,213 350.62,212 350.93,211 351.23,210 351.52,209 351.78,208 352,207 352.17,206 352.3,205 352.37,204 352.37,203 352.32,202 352.21,201 352.04,200 351.83,199 351.58,198 351.3,197 351,196 350.7,195 350.4,194 350.12,193 349.86,192 349.65,191 349.48,190 349.36,189 349.31,188 349.3,187 349.3,186 349.3,185 349.3,184 349.3,183 349.3,182 349.3,181 349.3,180 349.3,179 349.34,178 349.45,177 349.6,176 349.81,175 350.05,174 350.33,173 350.62,172 350.93,171 351.23,170 351.52,169 351.78,168 352,167 352.17,166 352.3,165 352.37,164 352.37,163 352.32,162 352.21,161 352.04,160 351.83,159 351.58,158 351.3,157 351,156 350.7,155 350.4,154 350.12,153 349.86,152 349.65,151 349.48,150 349.36,149 349.31,148 349.3,147 349.3,146 349.3,145 349.3,144 349.3,143 349.3,142 349.3,141 349.3,140 349.3,139 349.33,138 349.42,137 349.57,136 349.76,135 350,134 350.27,133 350.56,132 350.87,131 351.17,130 351.46,129 351.73,128 351.96,127 352.14,126 352.28,125 352.36,124 352.38,123 352.34,122 352.24,121 352.08,120 351.88,119 351.63,118 351.36,117 351.06,116 350.76,115 350.46,114 350.17,113 349.91,112 349.69,111 349.51,110 349.38,109 349.31,108 349.3,107 349.3,106 349.3,105 349.3,104 349.3,103 349.3,102 349.3,101 349.32,100 349.41,99 349.55,98 349.74,97 349.97,96 350.24,95 350.53,94 350.83,93 351.14,92 351.43,91 351.7,90 351.93,89 352.12,88 352.27,87 352.35,86 352.38,85 352.34,84 352.25,83 352.1,82 351.9,81 351.66,80 351.39,79 351.1,78 350.79,77 350.49,76 350.2,75 349.94,74 349.71,73 349.53,72 349.39,71 349.32,70 349.3,69 349.3,68 349.3,67 349.3,66 349.3,65 349.3,64"/></clipPath>
<linearGradient id="st3" gradientUnits="userSpaceOnUse" x1="349.3" y1="0" x2="368.3" y2="0"><stop offset="0" stop-color="#9a9ea1"/><stop offset="0.15" stop-color="#cfd2d4"/><stop offset="0.45" stop-color="#eceeef"/><stop offset="0.55" stop-color="#d0d3d5"/><stop offset="0.7" stop-color="#e2e4e5"/><stop offset="0.88" stop-color="#b2b5b7"/><stop offset="1" stop-color="#8e9295"/></linearGradient>
<linearGradient id="cyl4" gradientUnits="userSpaceOnUse" x1="455" y1="0" x2="476" y2="0"><stop offset="0" stop-color="#858687"/><stop offset="0.11" stop-color="#a2a3a4"/><stop offset="0.28" stop-color="#cbcccd"/><stop offset="0.40" stop-color="#bdbebf"/><stop offset="0.52" stop-color="#d0d1d2"/><stop offset="0.66" stop-color="#bbbcbd"/><stop offset="0.80" stop-color="#a5a6a7"/><stop offset="0.93" stop-color="#939495"/><stop offset="1" stop-color="#818283"/></linearGradient>
<linearGradient id="hex4" gradientUnits="userSpaceOnUse" x1="452.7" y1="0" x2="478.3" y2="0"><stop offset="0" stop-color="#686664"/><stop offset="0.05" stop-color="#777573"/><stop offset="0.2" stop-color="#7f7d7b"/><stop offset="0.245" stop-color="#94928f"/><stop offset="0.5" stop-color="#8f8d8b"/><stop offset="0.82" stop-color="#8b8987"/><stop offset="0.86" stop-color="#7f7d7b"/><stop offset="0.93" stop-color="#868482"/><stop offset="0.975" stop-color="#989694"/><stop offset="1" stop-color="#7a7876"/></linearGradient>
<linearGradient id="neck4" gradientUnits="userSpaceOnUse" x1="452.7" y1="0" x2="478.3" y2="0"><stop offset="0" stop-color="#73706e"/><stop offset="0.3" stop-color="#8f8c8a"/><stop offset="0.55" stop-color="#969391"/><stop offset="0.85" stop-color="#878482"/><stop offset="1" stop-color="#73706e"/></linearGradient>
<linearGradient id="gr4" x1="0" y1="0" x2="0" y2="1"><stop offset="0" stop-color="#fff" stop-opacity="0.16"/><stop offset="0.45" stop-color="#fff" stop-opacity="0.02"/><stop offset="0.75" stop-color="#000" stop-opacity="0.2"/><stop offset="1" stop-color="#000" stop-opacity="0.05"/></linearGradient>
<clipPath id="hc4"><path d="M455 426.5 L455 432.7 C455 439.45 452.7 441.7 452.7 447.7 L452.7 515.8 L454.2 517.3 C455.7 519.3 457.7 520.8 457.7 523.8 C457.7 526.8 455.2 528 453.7 530 L452.7 531.5 L452.7 552.6 Q452.7 555.6 455.7 555.6 L475.3 555.6 Q478.3 555.6 478.3 552.6 L478.3 531.5 L477.3 530 C475.8 528 473.3 526.8 473.3 523.8 C473.3 520.8 475.3 519.3 476.8 517.3 L478.3 515.8 L478.3 447.7 C478.3 441.7 476 439.45 476 432.7 L476 426.5Z"/></clipPath>
<linearGradient id="blue4" gradientUnits="userSpaceOnUse" x1="452.7" y1="0" x2="478.3" y2="0"><stop offset="0" stop-color="#1c8fca"/><stop offset="0.25" stop-color="#2ba3da"/><stop offset="0.55" stop-color="#3aaee0"/><stop offset="0.85" stop-color="#219ad4"/><stop offset="1" stop-color="#1787c0"/></linearGradient>
<clipPath id="clip4"><polygon points="476,62 476,63 476,64 476,65 476,66 476,67 476,68 476,69 476,70 476,71 476,72 475.99,73 475.92,74 475.8,75 475.64,76 475.44,77 475.2,78 474.94,79 474.67,80 474.39,81 474.12,82 473.86,83 473.63,84 473.43,85 473.28,86 473.17,87 473.11,88 473.11,89 473.16,90 473.26,91 473.4,92 473.59,93 473.82,94 474.07,95 474.34,96 474.62,97 474.9,98 475.16,99 475.4,100 475.61,101 475.78,102 475.9,103 475.98,104 476,105 476,106 476,107 476,108 476,109 476,110 476,111 476,112 475.99,113 475.94,114 475.84,115 475.69,116 475.5,117 475.27,118 475.02,119 474.74,120 474.47,121 474.19,122 473.93,123 473.69,124 473.48,125 473.32,126 473.19,127 473.12,128 473.1,129 473.14,130 473.22,131 473.36,132 473.54,133 473.76,134 474,135 474.27,136 474.55,137 474.82,138 475.09,139 475.34,140 475.56,141 475.74,142 475.87,143 475.96,144 476,145 476,146 476,147 476,148 476,149 476,150 476,151 476,152 476,153 475.96,154 475.88,155 475.74,156 475.56,157 475.34,158 475.09,159 474.83,160 474.55,161 474.27,162 474.01,163 473.76,164 473.54,165 473.36,166 473.23,167 473.14,168 473.1,169 473.12,170 473.19,171 473.31,172 473.48,173 473.69,174 473.93,175 474.19,176 474.46,177 474.74,178 475.01,179 475.27,180 475.49,181 475.69,182 475.84,183 475.94,184 475.99,185 476,186 476,187 476,188 476,189 476,190 476,191 476,192 476,193 476,194 476,195 475.97,196 475.89,197 475.75,198 475.58,199 475.36,200 475.12,201 474.85,202 474.58,203 474.3,204 474.03,205 473.78,206 473.56,207 473.38,208 473.24,209 473.14,210 473.1,211 473.12,212 473.18,213 473.3,214 473.46,215 473.66,216 473.9,217 474.16,218 474.43,219 474.71,220 474.98,221 475.24,222 475.47,223 475.67,224 475.82,225 475.93,226 475.99,227 476,228 476,229 476,230 476,231 476,232 476,233 476,234 476,235 475.99,236 475.93,237 475.81,238 475.65,239 475.45,240 475.22,241 474.96,242 474.69,243 474.41,244 474.14,245 473.88,246 473.65,247 473.45,248 473.29,249 473.18,250 473.11,251 473.11,252 473.15,253 473.25,254 473.39,255 473.58,256 473.8,257 474.05,258 474.32,259 474.6,260 474.88,261 475.14,262 475.38,263 475.59,264 475.77,265 475.9,266 475.97,267 476,268 476,269 476,270 476,271 476,272 476,273 476,274 476,275 476,276 475.95,277 475.85,278 475.71,279 475.52,280 475.29,281 475.04,282 474.77,283 474.49,284 474.22,285 473.95,286 473.71,287 473.5,288 473.33,289 473.2,290 473.13,291 473.1,292 473.13,293 473.21,294 473.34,295 473.52,296 473.73,297 473.98,298 474.24,299 474.52,300 474.79,301 475.06,302 475.31,303 475.53,304 475.72,305 475.86,306 475.96,307 476,308 476,309 476,310 476,311 476,312 476,313 476,314 476,315 476,316 475.98,317 475.93,318 475.85,319 475.75,320 475.62,321 475.47,322 475.31,323 475.15,324 474.98,325 474.82,326 474.67,327 474.54,328 474.43,329 474.34,330 474.29,331 474.26,332 474.37,333 474.54,334 474.72,335 474.91,336 475.11,337 475.29,338 475.47,339 475.62,340 475.74,341 475.85,342 475.92,343 475.97,344 476,345 476,346 476,347 476,348 476,349 476,350 476,351 476,352 476,353 476,354 476,355 476,356 476,357 476,358 476,359 476,360 476,361 476,362 476,363 476,364 476,365 476,366 476,367 476,368 476,369 476,370 476,371 476,372 476,373 476,374 476,375 476,376 476,377 476,378 476,379 476,380 476,381 455,381 455,380 455,379 455,378 455,377 455,376 455,375 455,374 455,373 455,372 455,371 455,370 455,369 455,368 455,367 455,366 455,365 455,364 455,363 455,362 455,361 455,360 455,359 455,358 455,357 455,356 455,355 455,354 455,353 455,352 455,351 455,350 455,349 455,348 455,347 455,346 455,345 455,344 455,343 455,342 455.03,341 455.08,340 455.16,339 455.27,338 455.41,337 455.58,336 455.77,335 455.99,334 456.21,333 456.44,332 456.66,331 456.87,330 457.04,329 457.02,328 456.97,327 456.88,326 456.75,325 456.61,324 456.43,323 456.25,322 456.05,321 455.86,320 455.67,319 455.49,318 455.33,317 455.2,316 455.1,315 455.03,314 455,313 455,312 455,311 455,310 455,309 455,308 455,307 455,306 455,305 455.03,304 455.13,303 455.28,302 455.48,301 455.73,300 456.02,299 456.33,298 456.65,297 456.98,296 457.3,295 457.59,294 457.85,293 458.07,292 458.24,291 458.35,290 458.4,289 458.39,288 458.31,287 458.18,286 457.99,285 457.75,284 457.48,283 457.18,282 456.85,281 456.53,280 456.21,279 455.91,278 455.63,277 455.4,276 455.21,275 455.08,274 455.01,273 455,272 455,271 455,270 455,269 455,268 455,267 455,266 455,265 455.02,264 455.09,263 455.23,262 455.42,261 455.65,260 455.93,259 456.23,258 456.56,257 456.88,256 457.2,255 457.5,254 457.78,253 458.01,252 458.19,251 458.32,250 458.39,249 458.4,248 458.34,247 458.22,246 458.05,245 457.83,244 457.57,243 457.27,242 456.95,241 456.63,240 456.3,239 455.99,238 455.71,237 455.46,236 455.26,235 455.12,234 455.03,233 455,232 455,231 455,230 455,229 455,228 455,227 455,226 455,225 455,224 455.05,223 455.17,222 455.34,221 455.55,220 455.82,219 456.11,218 456.43,217 456.75,216 457.08,215 457.39,214 457.67,213 457.92,212 458.13,211 458.28,210 458.37,209 458.4,208 458.37,207 458.28,206 458.13,205 457.92,204 457.68,203 457.39,202 457.08,201 456.76,200 456.43,199 456.11,198 455.82,197 455.56,196 455.34,195 455.17,194 455.06,193 455,192 455,191 455,190 455,189 455,188 455,187 455,186 455,185 455,184 455,183 455,182 455.05,181 455.15,180 455.32,179 455.53,178 455.79,177 456.08,176 456.39,175 456.72,174 457.04,173 457.36,172 457.64,171 457.9,170 458.11,169 458.26,168 458.36,167 458.4,166 458.38,165 458.29,164 458.15,163 457.95,162 457.7,161 457.42,160 457.11,159 456.79,158 456.46,157 456.15,156 455.85,155 455.58,154 455.36,153 455.18,152 455.06,151 455.01,150 455,149 455,148 455,147 455,146 455,145 455,144 455,143 455,142 455.03,141 455.11,140 455.26,139 455.46,138 455.71,137 455.99,136 456.3,135 456.62,134 456.95,133 457.26,132 457.56,131 457.83,130 458.05,129 458.22,128 458.34,127 458.4,126 458.39,125 458.32,124 458.19,123 458.01,122 457.78,121 457.51,120 457.21,119 456.89,118 456.56,117 456.24,116 455.93,115 455.66,114 455.42,113 455.23,112 455.09,111 455.02,110 455,109 455,108 455,107 455,106 455,105 455,104 455,103 455,102 455.01,101 455.08,100 455.22,99 455.4,98 455.64,97 455.91,96 456.21,95 456.53,94 456.86,93 457.18,92 457.48,91 457.76,90 457.99,89 458.18,88 458.31,87 458.39,86 458.4,85 458.35,84 458.24,83 458.07,82 457.85,81 457.59,80 457.29,79 456.98,78 456.65,77 456.33,76 456.02,75 455.73,74 455.48,73 455.28,72 455.13,71 455.03,70 455,69 455,68 455,67 455,66 455,65 455,64 455,63 455,62"/></clipPath>
<linearGradient id="st4" gradientUnits="userSpaceOnUse" x1="455" y1="0" x2="476" y2="0"><stop offset="0" stop-color="#9a9ea1"/><stop offset="0.15" stop-color="#cfd2d4"/><stop offset="0.45" stop-color="#eceeef"/><stop offset="0.55" stop-color="#d0d3d5"/><stop offset="0.7" stop-color="#e2e4e5"/><stop offset="0.88" stop-color="#b2b5b7"/><stop offset="1" stop-color="#8e9295"/></linearGradient>
<linearGradient id="cyl5" gradientUnits="userSpaceOnUse" x1="562.05" y1="0" x2="586.75" y2="0"><stop offset="0" stop-color="#858687"/><stop offset="0.11" stop-color="#a2a3a4"/><stop offset="0.28" stop-color="#cbcccd"/><stop offset="0.40" stop-color="#bdbebf"/><stop offset="0.52" stop-color="#d0d1d2"/><stop offset="0.66" stop-color="#bbbcbd"/><stop offset="0.80" stop-color="#a5a6a7"/><stop offset="0.93" stop-color="#939495"/><stop offset="1" stop-color="#818283"/></linearGradient>
<linearGradient id="hex5" gradientUnits="userSpaceOnUse" x1="562.65" y1="0" x2="586.15" y2="0"><stop offset="0" stop-color="#686664"/><stop offset="0.05" stop-color="#777573"/><stop offset="0.2" stop-color="#7f7d7b"/><stop offset="0.245" stop-color="#94928f"/><stop offset="0.5" stop-color="#8f8d8b"/><stop offset="0.82" stop-color="#8b8987"/><stop offset="0.86" stop-color="#7f7d7b"/><stop offset="0.93" stop-color="#868482"/><stop offset="0.975" stop-color="#989694"/><stop offset="1" stop-color="#7a7876"/></linearGradient>
<linearGradient id="neck5" gradientUnits="userSpaceOnUse" x1="562.65" y1="0" x2="586.15" y2="0"><stop offset="0" stop-color="#73706e"/><stop offset="0.3" stop-color="#8f8c8a"/><stop offset="0.55" stop-color="#969391"/><stop offset="0.85" stop-color="#878482"/><stop offset="1" stop-color="#73706e"/></linearGradient>
<linearGradient id="gr5" x1="0" y1="0" x2="0" y2="1"><stop offset="0" stop-color="#fff" stop-opacity="0.16"/><stop offset="0.45" stop-color="#fff" stop-opacity="0.02"/><stop offset="0.75" stop-color="#000" stop-opacity="0.2"/><stop offset="1" stop-color="#000" stop-opacity="0.05"/></linearGradient>
<clipPath id="hc5"><path d="M562.05 446.5 L562.65 449.5 L562.65 515.8 L564.15 517.3 C565.65 519.3 566.6 520.8 566.6 523.8 C566.6 526.8 565.15 528 563.65 530 L562.65 531.5 L562.65 552.6 Q562.65 555.6 565.65 555.6 L583.15 555.6 Q586.15 555.6 586.15 552.6 L586.15 531.5 L585.15 530 C583.65 528 582.2 526.8 582.2 523.8 C582.2 520.8 583.15 519.3 584.65 517.3 L586.15 515.8 L586.15 449.5 L586.75 446.5Z"/></clipPath>
<linearGradient id="blue5" gradientUnits="userSpaceOnUse" x1="559.65" y1="0" x2="589.15" y2="0"><stop offset="0" stop-color="#1c8fca"/><stop offset="0.25" stop-color="#2ba3da"/><stop offset="0.55" stop-color="#3aaee0"/><stop offset="0.85" stop-color="#219ad4"/><stop offset="1" stop-color="#1787c0"/></linearGradient>
<clipPath id="clip5"><polygon points="586.75,70 586.75,71 586.75,72 586.75,73 586.75,74 586.75,75 586.73,76 586.68,77 586.59,78 586.46,79 586.31,80 586.12,81 585.91,82 585.67,83 585.42,84 585.15,85 584.87,86 584.59,87 584.31,88 584.04,89 583.77,90 583.52,91 583.3,92 583.09,93 582.91,94 582.76,95 582.65,96 582.57,97 582.53,98 582.52,99 582.55,100 582.62,101 582.72,102 582.86,103 583.03,104 583.23,105 583.45,106 583.69,107 583.95,108 584.22,109 584.5,110 584.78,111 585.06,112 585.33,113 585.59,114 585.83,115 586.05,116 586.25,117 586.42,118 586.55,119 586.65,120 586.72,121 586.75,122 586.75,123 586.75,124 586.75,125 586.75,126 586.75,127 586.75,128 586.75,129 586.75,130 586.75,131 586.75,132 586.75,133 586.75,134 586.73,135 586.67,136 586.58,137 586.45,138 586.29,139 586.11,140 585.89,141 585.65,142 585.4,143 585.13,144 584.85,145 584.57,146 584.29,147 584.02,148 583.76,149 583.51,150 583.28,151 583.08,152 582.9,153 582.75,154 582.64,155 582.57,156 582.52,157 582.52,158 582.56,159 582.63,160 582.73,161 582.87,162 583.04,163 583.24,164 583.47,165 583.71,166 583.97,167 584.24,168 584.52,169 584.8,170 585.08,171 585.35,172 585.61,173 585.85,174 586.07,175 586.26,176 586.43,177 586.56,178 586.66,179 586.72,180 586.75,181 586.75,182 586.75,183 586.75,184 586.75,185 586.75,186 586.75,187 586.75,188 586.75,189 586.75,190 586.75,191 586.75,192 586.75,193 586.72,194 586.65,195 586.55,196 586.41,197 586.24,198 586.04,199 585.82,200 585.58,201 585.32,202 585.05,203 584.77,204 584.49,205 584.21,206 583.94,207 583.68,208 583.44,209 583.22,210 583.02,211 582.85,212 582.72,213 582.62,214 582.55,215 582.52,216 582.53,217 582.57,218 582.65,219 582.77,220 582.92,221 583.1,222 583.31,223 583.54,224 583.79,225 584.05,226 584.33,227 584.61,228 584.89,229 585.16,230 585.43,231 585.68,232 585.92,233 586.13,234 586.31,235 586.47,236 586.59,237 586.68,238 586.73,239 586.75,240 586.75,241 586.75,242 586.75,243 586.75,244 586.75,245 586.75,246 586.75,247 586.75,248 586.75,249 586.75,250 586.75,251 586.72,252 586.66,253 586.56,254 586.42,255 586.26,256 586.06,257 585.84,258 585.6,259 585.35,260 585.08,261 584.8,262 584.52,263 584.24,264 583.96,265 583.7,266 583.46,267 583.24,268 583.04,269 582.87,270 582.73,271 582.62,272 582.55,273 582.52,274 582.52,275 582.57,276 582.64,277 582.76,278 582.9,279 583.08,280 583.28,281 583.51,282 583.76,283 584.02,284 584.3,285 584.58,286 584.86,287 585.14,288 585.4,289 585.66,290 585.89,291 586.11,292 586.3,293 586.46,294 586.58,295 586.67,296 586.73,297 586.75,298 586.75,299 586.75,300 586.75,301 586.75,302 586.75,303 586.75,304 586.75,305 586.75,306 586.75,307 586.75,308 586.75,309 586.75,310 586.72,311 586.68,312 586.61,313 586.53,314 586.42,315 586.3,316 586.16,317 586.02,318 585.86,319 585.7,320 585.53,321 585.36,322 585.19,323 585.03,324 584.88,325 584.73,326 584.61,327 584.49,328 584.39,329 584.32,330 584.26,331 584.22,332 584.21,333 584.34,334 584.5,335 584.68,336 584.87,337 585.06,338 585.26,339 585.46,340 585.65,341 585.83,342 586,343 586.15,344 586.29,345 586.41,346 586.51,347 586.59,348 586.65,349 586.7,350 586.73,351 586.75,352 586.75,353 586.75,354 586.75,355 586.75,356 586.75,357 586.75,358 586.75,359 586.75,360 586.75,361 586.75,362 586.75,363 586.75,364 586.75,365 586.75,366 586.75,367 586.75,368 586.75,369 586.75,370 586.75,371 586.75,372 586.75,373 586.75,374 586.75,375 586.75,376 586.75,377 586.75,378 586.75,379 586.75,380 586.75,381 586.75,382 586.75,383 586.75,384 586.75,385 586.75,386 586.75,387 586.75,388 586.75,389 586.75,390 586.75,391 586.75,392 586.75,393 562.05,393 562.05,392 562.05,391 562.05,390 562.05,389 562.05,388 562.05,387 562.05,386 562.05,385 562.05,384 562.05,383 562.05,382 562.05,381 562.05,380 562.05,379 562.05,378 562.05,377 562.05,376 562.05,375 562.05,374 562.05,373 562.05,372 562.05,371 562.05,370 562.05,369 562.05,368 562.05,367 562.05,366 562.05,365 562.05,364 562.05,363 562.05,362 562.05,361 562.05,360 562.05,359 562.05,358 562.05,357 562.05,356 562.05,355 562.05,354 562.05,353 562.05,352 562.05,351 562.05,350 562.05,349 562.05,348 562.05,347 562.08,346 562.12,345 562.18,344 562.26,343 562.37,342 562.49,341 562.64,340 562.8,339 562.99,338 563.19,337 563.41,336 563.63,335 563.86,334 564.09,333 564.32,332 564.54,331 564.74,330 564.93,329 565.03,328 565.01,327 564.96,326 564.88,325 564.79,324 564.67,323 564.53,322 564.37,321 564.2,320 564.02,319 563.82,318 563.63,317 563.43,316 563.23,315 563.04,314 562.86,313 562.69,312 562.54,311 562.4,310 562.28,309 562.19,308 562.12,307 562.07,306 562.05,305 562.05,304 562.05,303 562.05,302 562.05,301 562.05,300 562.05,299 562.05,298 562.05,297 562.05,296 562.05,295 562.05,294 562.05,293 562.09,292 562.16,291 562.28,290 562.44,289 562.64,288 562.87,287 563.13,286 563.41,285 563.72,284 564.03,283 564.36,282 564.69,281 565.02,280 565.34,279 565.64,278 565.93,277 566.19,276 566.42,275 566.62,274 566.78,273 566.9,272 566.98,271 567.02,270 567.01,269 566.96,268 566.86,267 566.73,266 566.55,265 566.35,264 566.1,263 565.83,262 565.54,261 565.23,260 564.91,259 564.58,258 564.25,257 563.93,256 563.61,255 563.32,254 563.04,253 562.79,252 562.57,251 562.39,250 562.24,249 562.13,248 562.07,247 562.05,246 562.05,245 562.05,244 562.05,243 562.05,242 562.05,241 562.05,240 562.05,239 562.05,238 562.05,237 562.05,236 562.05,235 562.08,234 562.15,233 562.27,232 562.43,231 562.62,230 562.84,229 563.1,228 563.38,227 563.68,226 564,225 564.33,224 564.66,223 564.99,222 565.31,221 565.61,220 565.9,219 566.16,218 566.4,217 566.6,216 566.76,215 566.89,214 566.97,213 567.01,212 567.01,211 566.96,210 566.87,209 566.74,208 566.57,207 566.37,206 566.13,205 565.86,204 565.57,203 565.26,202 564.94,201 564.61,200 564.28,199 563.96,198 563.64,197 563.34,196 563.07,195 562.81,194 562.59,193 562.4,192 562.25,191 562.14,190 562.07,189 562.05,188 562.05,187 562.05,186 562.05,185 562.05,184 562.05,183 562.05,182 562.05,181 562.05,180 562.05,179 562.05,178 562.05,177 562.06,176 562.1,175 562.18,174 562.31,173 562.48,172 562.68,171 562.92,170 563.18,169 563.47,168 563.78,167 564.1,166 564.43,165 564.76,164 565.08,163 565.4,162 565.7,161 565.98,160 566.24,159 566.46,158 566.65,157 566.81,156 566.92,155 566.99,154 567.02,153 567,152 566.94,151 566.84,150 566.7,149 566.52,148 566.3,147 566.05,146 565.78,145 565.48,144 565.17,143 564.84,142 564.52,141 564.19,140 563.86,139 563.55,138 563.26,137 562.99,136 562.74,135 562.53,134 562.35,133 562.21,132 562.12,131 562.06,130 562.05,129 562.05,128 562.05,127 562.05,126 562.05,125 562.05,124 562.05,123 562.05,122 562.05,121 562.05,120 562.05,119 562.05,118 562.06,117 562.1,116 562.19,115 562.32,114 562.49,113 562.7,112 562.94,111 563.2,110 563.49,109 563.8,108 564.12,107 564.45,106 564.78,105 565.11,104 565.42,103 565.72,102 566,101 566.25,100 566.48,99 566.66,98 566.81,97 566.93,96 566.99,95 567.02,94 567,93 566.94,92 566.83,91 566.68,90 566.5,89 566.28,88 566.03,87 565.76,86 565.46,85 565.15,84 564.82,83 564.49,82 564.16,81 563.84,80 563.53,79 563.24,78 562.97,77 562.73,76 562.52,75 562.34,74 562.21,73 562.11,72 562.06,71 562.05,70"/></clipPath>
<linearGradient id="st5" gradientUnits="userSpaceOnUse" x1="562.05" y1="0" x2="586.75" y2="0"><stop offset="0" stop-color="#9a9ea1"/><stop offset="0.15" stop-color="#cfd2d4"/><stop offset="0.45" stop-color="#eceeef"/><stop offset="0.55" stop-color="#d0d3d5"/><stop offset="0.7" stop-color="#e2e4e5"/><stop offset="0.88" stop-color="#b2b5b7"/><stop offset="1" stop-color="#8e9295"/></linearGradient>
<linearGradient id="cyl6" gradientUnits="userSpaceOnUse" x1="666.75" y1="0" x2="698.25" y2="0"><stop offset="0" stop-color="#858687"/><stop offset="0.11" stop-color="#a2a3a4"/><stop offset="0.28" stop-color="#cbcccd"/><stop offset="0.40" stop-color="#bdbebf"/><stop offset="0.52" stop-color="#d0d1d2"/><stop offset="0.66" stop-color="#bbbcbd"/><stop offset="0.80" stop-color="#a5a6a7"/><stop offset="0.93" stop-color="#939495"/><stop offset="1" stop-color="#818283"/></linearGradient>
<linearGradient id="hex6" gradientUnits="userSpaceOnUse" x1="671.25" y1="0" x2="693.75" y2="0"><stop offset="0" stop-color="#686664"/><stop offset="0.05" stop-color="#777573"/><stop offset="0.2" stop-color="#7f7d7b"/><stop offset="0.245" stop-color="#94928f"/><stop offset="0.5" stop-color="#8f8d8b"/><stop offset="0.82" stop-color="#8b8987"/><stop offset="0.86" stop-color="#7f7d7b"/><stop offset="0.93" stop-color="#868482"/><stop offset="0.975" stop-color="#989694"/><stop offset="1" stop-color="#7a7876"/></linearGradient>
<linearGradient id="neck6" gradientUnits="userSpaceOnUse" x1="671.25" y1="0" x2="693.75" y2="0"><stop offset="0" stop-color="#73706e"/><stop offset="0.3" stop-color="#8f8c8a"/><stop offset="0.55" stop-color="#969391"/><stop offset="0.85" stop-color="#878482"/><stop offset="1" stop-color="#73706e"/></linearGradient>
<linearGradient id="gr6" x1="0" y1="0" x2="0" y2="1"><stop offset="0" stop-color="#fff" stop-opacity="0.16"/><stop offset="0.45" stop-color="#fff" stop-opacity="0.02"/><stop offset="0.75" stop-color="#000" stop-opacity="0.2"/><stop offset="1" stop-color="#000" stop-opacity="0.05"/></linearGradient>
<clipPath id="hc6"><path d="M666.75 434.5 L671.25 446.8 L671.25 515.8 L672.75 517.3 C674.25 519.3 674.7 520.8 674.7 523.8 C674.7 526.8 673.75 528 672.25 530 L671.25 531.5 L671.25 552.6 Q671.25 555.6 674.25 555.6 L690.75 555.6 Q693.75 555.6 693.75 552.6 L693.75 531.5 L692.75 530 C691.25 528 690.3 526.8 690.3 523.8 C690.3 520.8 690.75 519.3 692.25 517.3 L693.75 515.8 L693.75 446.8 L698.25 434.5Z"/></clipPath>
<linearGradient id="blue6" gradientUnits="userSpaceOnUse" x1="664.5" y1="0" x2="700.5" y2="0"><stop offset="0" stop-color="#1c8fca"/><stop offset="0.25" stop-color="#2ba3da"/><stop offset="0.55" stop-color="#3aaee0"/><stop offset="0.85" stop-color="#219ad4"/><stop offset="1" stop-color="#1787c0"/></linearGradient>
<clipPath id="clip6"><polygon points="698.5,78 698.5,79 698.49,80 698.43,81 698.35,82 698.22,83 698.07,84 697.88,85 697.67,86 697.43,87 697.18,88 696.91,89 696.63,90 696.34,91 696.05,92 695.77,93 695.49,94 695.23,95 694.99,96 694.77,97 694.57,98 694.41,99 694.27,100 694.17,101 694.11,102 694.08,103 694.1,104 694.14,105 694.23,106 694.35,107 694.5,108 694.68,109 694.9,110 695.13,111 695.38,112 695.65,113 695.93,114 696.22,115 696.51,116 696.79,117 697.07,118 697.33,119 697.57,120 697.8,121 698,122 698.16,123 698.3,124 698.4,125 698.47,126 698.5,127 698.5,128 698.5,129 698.5,130 698.5,131 698.5,132 698.5,133 698.5,134 698.5,135 698.5,136 698.5,137 698.5,138 698.5,139 698.47,140 698.41,141 698.31,142 698.17,143 698.01,144 697.81,145 697.59,146 697.35,147 697.08,148 696.81,149 696.53,150 696.24,151 695.95,152 695.67,153 695.4,154 695.14,155 694.91,156 694.7,157 694.51,158 694.36,159 694.24,160 694.15,161 694.1,162 694.08,163 694.11,164 694.17,165 694.27,166 694.4,167 694.56,168 694.76,169 694.98,170 695.22,171 695.48,172 695.75,173 696.04,174 696.32,175 696.61,176 696.89,177 697.16,178 697.42,179 697.66,180 697.87,181 698.06,182 698.22,183 698.34,184 698.43,185 698.48,186 698.5,187 698.5,188 698.5,189 698.5,190 698.5,191 698.5,192 698.5,193 698.5,194 698.5,195 698.5,196 698.5,197 698.5,198 698.5,199 698.5,200 698.49,201 698.45,202 698.38,203 698.26,204 698.12,205 697.94,206 697.74,207 697.51,208 697.26,209 696.99,210 696.71,211 696.43,212 696.14,213 695.85,214 695.57,215 695.31,216 695.06,217 694.83,218 694.63,219 694.45,220 694.31,221 694.2,222 694.13,223 694.09,224 694.09,225 694.13,226 694.2,227 694.31,228 694.45,229 694.63,230 694.83,231 695.06,232 695.31,233 695.57,234 695.85,235 696.14,236 696.42,237 696.71,238 696.99,239 697.25,240 697.51,241 697.73,242 697.94,243 698.12,244 698.26,245 698.38,246 698.45,247 698.49,248 698.5,249 698.5,250 698.5,251 698.5,252 698.5,253 698.5,254 698.5,255 698.5,256 698.5,257 698.5,258 698.47,259 698.43,260 698.36,261 698.27,262 698.16,263 698.04,264 697.9,265 697.75,266 697.59,267 697.43,268 697.26,269 697.08,270 696.91,271 696.74,272 696.59,273 696.44,274 696.3,275 696.18,276 696.07,277 695.99,278 695.92,279 695.88,280 695.85,281 695.92,282 696.08,283 696.25,284 696.44,285 696.64,286 696.84,287 697.04,288 697.24,289 697.43,290 697.61,291 697.78,292 697.93,293 698.06,294 698.18,295 698.28,296 698.35,297 698.41,298 698.45,299 698.45,300 698.44,301 698.44,302 698.43,303 698.43,304 698.42,305 698.42,306 698.41,307 698.41,308 698.4,309 698.39,310 698.39,311 698.38,312 698.38,313 698.37,314 698.37,315 698.36,316 698.35,317 698.35,318 698.34,319 698.34,320 698.33,321 698.33,322 698.32,323 698.32,324 698.31,325 698.31,326 698.3,327 698.3,328 698.29,329 698.29,330 698.28,331 698.28,332 698.28,333 698.27,334 698.27,335 698.27,336 698.26,337 698.26,338 698.26,339 698.26,340 698.25,341 698.25,342 698.25,343 698.25,344 698.25,345 698.25,346 698.25,347 698.25,348 698.25,349 698.25,350 666.75,350 666.75,349 666.75,348 666.75,347 666.75,346 666.75,345 666.75,344 666.75,343 666.75,342 666.75,341 666.74,340 666.74,339 666.74,338 666.74,337 666.73,336 666.73,335 666.73,334 666.72,333 666.72,332 666.72,331 666.71,330 666.71,329 666.7,328 666.7,327 666.69,326 666.69,325 666.68,324 666.68,323 666.67,322 666.67,321 666.66,320 666.66,319 666.65,318 666.65,317 666.64,316 666.63,315 666.63,314 666.62,313 666.62,312 666.61,311 666.61,310 666.6,309 666.59,308 666.59,307 666.58,306 666.58,305 666.57,304 666.57,303 666.56,302 666.56,301 666.55,300 666.55,299 666.54,298 666.54,297 666.53,296 666.53,295 666.56,294 666.61,293 666.69,292 666.78,291 666.9,290 667.04,289 667.2,288 667.38,287 667.58,286 667.8,285 668.02,284 668.26,283 668.49,282 668.73,281 668.96,280 669.17,279 669.38,278 669.56,277 669.6,276 669.57,275 669.52,274 669.43,273 669.33,272 669.2,271 669.06,270 668.89,269 668.71,268 668.53,267 668.33,266 668.13,265 667.92,264 667.72,263 667.53,262 667.34,261 667.17,260 667.01,259 666.87,258 666.75,257 666.65,256 666.58,255 666.53,254 666.5,253 666.5,252 666.5,251 666.5,250 666.5,249 666.5,248 666.5,247 666.5,246 666.5,245 666.5,244 666.51,243 666.57,242 666.67,241 666.81,240 666.99,239 667.2,238 667.45,237 667.72,236 668.02,235 668.33,234 668.66,233 669,232 669.34,231 669.67,230 669.99,229 670.3,228 670.59,227 670.85,226 671.09,225 671.28,224 671.45,223 671.57,222 671.65,221 671.68,220 671.67,219 671.62,218 671.53,217 671.39,216 671.21,215 671,214 670.76,213 670.49,212 670.19,211 669.88,210 669.55,209 669.21,208 668.87,207 668.54,206 668.21,205 667.91,204 667.62,203 667.35,202 667.12,201 666.91,200 666.75,199 666.63,198 666.54,197 666.5,196 666.5,195 666.5,194 666.5,193 666.5,192 666.5,191 666.5,190 666.5,189 666.5,188 666.5,187 666.5,186 666.5,185 666.5,184 666.5,183 666.5,182 666.53,181 666.6,180 666.71,179 666.86,178 667.06,177 667.28,176 667.54,175 667.82,174 668.13,173 668.45,172 668.78,171 669.12,170 669.45,169 669.79,168 670.1,167 670.41,166 670.69,165 670.94,164 671.16,163 671.35,162 671.49,161 671.6,160 671.66,159 671.68,158 671.66,157 671.59,156 671.48,155 671.33,154 671.14,153 670.92,152 670.67,151 670.39,150 670.08,149 669.76,148 669.43,147 669.09,146 668.76,145 668.42,144 668.1,143 667.8,142 667.52,141 667.26,140 667.04,139 666.85,138 666.7,137 666.59,136 666.52,135 666.5,134 666.5,133 666.5,132 666.5,131 666.5,130 666.5,129 666.5,128 666.5,127 666.5,126 666.5,125 666.5,124 666.5,123 666.5,122 666.55,121 666.63,120 666.76,119 666.93,118 667.13,117 667.37,116 667.64,115 667.93,114 668.24,113 668.57,112 668.9,111 669.24,110 669.57,109 669.9,108 670.21,107 670.51,106 670.78,105 671.02,104 671.23,103 671.4,102 671.54,101 671.63,100 671.68,99 671.68,98 671.64,97 671.56,96 671.43,95 671.27,94 671.07,93 670.83,92 670.57,91 670.28,90 669.97,89 669.65,88 669.31,87 668.97,86 668.64,85 668.31,84 667.99,83 667.7,82 667.43,81 667.18,80 666.97,79 666.79,78"/></clipPath>
<linearGradient id="st6" gradientUnits="userSpaceOnUse" x1="666.5" y1="0" x2="698.5" y2="0"><stop offset="0" stop-color="#9a9ea1"/><stop offset="0.15" stop-color="#cfd2d4"/><stop offset="0.45" stop-color="#eceeef"/><stop offset="0.55" stop-color="#d0d3d5"/><stop offset="0.7" stop-color="#e2e4e5"/><stop offset="0.88" stop-color="#b2b5b7"/><stop offset="1" stop-color="#8e9295"/></linearGradient>
</defs>
<rect width="800" height="566" fill="#fff"/>
<rect x="45" y="238" width="12.6" height="218.5" fill="url(#cyl0)"/>
<path d="M45 456 L45 458.5 C45 464.57 39.3 466.6 39.3 472 L39.3 515.8 L40.8 517.3 C42.3 519.3 43.5 520.8 43.5 523.8 C43.5 526.8 41.8 528 40.3 530 L39.3 531.5 L39.3 552.6 Q39.3 555.6 42.3 555.6 L60.3 555.6 Q63.3 555.6 63.3 552.6 L63.3 531.5 L62.3 530 C60.8 528 59.1 526.8 59.1 523.8 C59.1 520.8 60.3 519.3 61.8 517.3 L63.3 515.8 L63.3 472 C63.3 466.6 57.6 464.57 57.6 458.5 L57.6 456Z" fill="url(#hex0)"/>
<path d="M45 456 L45 458.5 C45 464.57 39.3 466.6 39.3 472 Q44.1 468.5 45.78 471 Q52.5 466.5 59.7 471 Q61.5 469 63.3 472 C63.3 466.6 57.6 464.57 57.6 458.5 L57.6 456Z" fill="url(#neck0)"/>
<rect x="39.3" y="517.3" width="24" height="13.7" fill="url(#gr0)" clip-path="url(#hc0)"/>
<rect x="39.3" y="552.6" width="24" height="3" fill="#000" opacity="0.08" clip-path="url(#hc0)"/>
<rect x="42.3" y="238" width="18" height="133.28" fill="#fff"/>
<g clip-path="url(#clip0)">
<rect x="42.8" y="238" width="17" height="154" fill="url(#cyl0)"/>
<polygon points="42.8,238 59.8,238 59.8,347.27 59.6,347.27 59.53,348.7 59.32,350.14 58.97,351.57 58.49,353.01 57.88,354.45 57.17,355.88 56.35,357.32 55.45,358.76 54.48,360.19 53.45,361.63 52.38,363.06 51.3,364.5 50.41,365.94 49.54,367.37 48.7,368.81 47.9,370.24 47.16,371.68 46.49,373.12 45.91,374.55 45.41,375.99 45.02,377.43 44.73,378.86 44.56,380.3 44.5,381.73 42.8,381.73" fill="url(#st0)" opacity="0.55"/>
<polygon points="42.8,237 59.8,237 59.8,235.37 58.1,235.37 58.04,236.8 57.87,238.24 57.58,239.67 57.19,241.11 56.69,242.55 56.11,243.98 55.44,245.42 54.7,246.86 53.9,248.29 53.06,249.73 52.19,251.16 51.3,252.6 50.22,254.04 49.15,255.47 48.12,256.91 47.15,258.34 46.25,259.78 45.43,261.22 44.72,262.65 44.11,264.09 43.63,265.52 43.28,266.96 43.07,268.4 43,269.83 42.8,269.83" fill="url(#blue0)"/>
<polyline points="58.1,236.17 58.04,237.6 57.87,239.04 57.58,240.47 57.19,241.91 56.69,243.35 56.11,244.78 55.44,246.22 54.7,247.66 53.9,249.09 53.06,250.53 52.19,251.96 51.3,253.4 50.22,254.84 49.15,256.27 48.12,257.71 47.15,259.14 46.25,260.58 45.43,262.02 44.72,263.45 44.11,264.89 43.63,266.32 43.28,267.76 43.07,269.2 43,270.63" fill="none" stroke="#858a8e" stroke-width="1.2" opacity="0.9"/>
<polyline points="59.6,243.37 59.53,244.8 59.32,246.24 58.97,247.67 58.49,249.11 57.88,250.55 57.17,251.98 56.35,253.42 55.45,254.86 54.48,256.29 53.45,257.73 52.38,259.16 51.3,260.6 50.41,262.04 49.54,263.47 48.7,264.91 47.9,266.34 47.16,267.78 46.49,269.22 45.91,270.65 45.41,272.09 45.02,273.52 44.73,274.96 44.56,276.4 44.5,277.83" fill="none" stroke="#a3a8ab" stroke-width="1" opacity="0.7"/>
<polygon points="44.5,278.33 44.56,276.9 44.73,275.46 45.02,274.02 45.41,272.59 45.91,271.15 46.49,269.72 47.16,268.28 47.9,266.84 48.7,265.41 49.54,263.97 50.41,262.54 51.3,261.1 52.38,259.66 53.45,258.23 54.48,256.79 55.45,255.36 56.35,253.92 57.17,252.48 57.88,251.05 58.49,249.61 58.97,248.17 59.32,246.74 59.53,245.3 59.6,243.87 59.8,243.87 59.8,269.37 58.1,269.37 58.04,270.8 57.87,272.24 57.58,273.68 57.19,275.11 56.69,276.55 56.11,277.98 55.44,279.42 54.7,280.86 53.9,282.29 53.06,283.73 52.19,285.16 51.3,286.6 50.22,288.04 49.15,289.47 48.12,290.91 47.15,292.34 46.25,293.78 45.43,295.22 44.72,296.65 44.11,298.09 43.63,299.53 43.28,300.96 43.07,302.4 43,303.83 42.8,303.83 42.8,278.33" fill="url(#blue0)"/>
<polyline points="58.1,270.17 58.04,271.6 57.87,273.04 57.58,274.48 57.19,275.91 56.69,277.35 56.11,278.78 55.44,280.22 54.7,281.66 53.9,283.09 53.06,284.53 52.19,285.96 51.3,287.4 50.22,288.84 49.15,290.27 48.12,291.71 47.15,293.14 46.25,294.58 45.43,296.02 44.72,297.45 44.11,298.89 43.63,300.33 43.28,301.76 43.07,303.2 43,304.63" fill="none" stroke="#858a8e" stroke-width="1.2" opacity="0.9"/>
<polyline points="59.6,277.37 59.53,278.8 59.32,280.24 58.97,281.68 58.49,283.11 57.88,284.55 57.17,285.98 56.35,287.42 55.45,288.86 54.48,290.29 53.45,291.73 52.38,293.16 51.3,294.6 50.41,296.04 49.54,297.47 48.7,298.91 47.9,300.34 47.16,301.78 46.49,303.22 45.91,304.65 45.41,306.09 45.02,307.53 44.73,308.96 44.56,310.4 44.5,311.83" fill="none" stroke="#a3a8ab" stroke-width="1" opacity="0.7"/>
<polygon points="44.5,312.33 44.56,310.9 44.73,309.46 45.02,308.03 45.41,306.59 45.91,305.15 46.49,303.72 47.16,302.28 47.9,300.84 48.7,299.41 49.54,297.97 50.41,296.54 51.3,295.1 52.38,293.66 53.45,292.23 54.48,290.79 55.45,289.36 56.35,287.92 57.17,286.48 57.88,285.05 58.49,283.61 58.97,282.18 59.32,280.74 59.53,279.3 59.6,277.87 59.8,277.87 59.8,303.27 58.1,303.27 58.04,304.7 57.87,306.14 57.58,307.57 57.19,309.01 56.69,310.45 56.11,311.88 55.44,313.32 54.7,314.76 53.9,316.19 53.06,317.63 52.19,319.06 51.3,320.5 50.22,321.94 49.15,323.37 48.12,324.81 47.15,326.24 46.25,327.68 45.43,329.12 44.72,330.55 44.11,331.99 43.63,333.43 43.28,334.86 43.07,336.3 43,337.73 42.8,337.73 42.8,312.33" fill="url(#blue0)"/>
<polyline points="58.1,304.07 58.04,305.5 57.87,306.94 57.58,308.38 57.19,309.81 56.69,311.25 56.11,312.68 55.44,314.12 54.7,315.56 53.9,316.99 53.06,318.43 52.19,319.86 51.3,321.3 50.22,322.74 49.15,324.17 48.12,325.61 47.15,327.04 46.25,328.48 45.43,329.92 44.72,331.35 44.11,332.79 43.63,334.23 43.28,335.66 43.07,337.1 43,338.53" fill="none" stroke="#858a8e" stroke-width="1.2" opacity="0.9"/>
<polyline points="59.6,311.27 59.53,312.7 59.32,314.14 58.97,315.57 58.49,317.01 57.88,318.45 57.17,319.88 56.35,321.32 55.45,322.76 54.48,324.19 53.45,325.63 52.38,327.06 51.3,328.5 50.41,329.94 49.54,331.37 48.7,332.81 47.9,334.24 47.16,335.68 46.49,337.12 45.91,338.55 45.41,339.99 45.02,341.43 44.73,342.86 44.56,344.3 44.5,345.73" fill="none" stroke="#a3a8ab" stroke-width="1" opacity="0.7"/>
<polygon points="44.5,346.23 44.56,344.8 44.73,343.36 45.02,341.93 45.41,340.49 45.91,339.05 46.49,337.62 47.16,336.18 47.9,334.74 48.7,333.31 49.54,331.87 50.41,330.44 51.3,329 52.38,327.56 53.45,326.13 54.48,324.69 55.45,323.26 56.35,321.82 57.17,320.38 57.88,318.95 58.49,317.51 58.97,316.07 59.32,314.64 59.53,313.2 59.6,311.77 59.8,311.77 59.8,338.77 58.1,338.77 58.04,340.2 57.87,341.64 57.58,343.07 57.19,344.51 56.69,345.95 56.11,347.38 55.44,348.82 54.7,350.26 53.9,351.69 53.06,353.13 52.19,354.56 51.3,356 50.22,357.44 49.15,358.87 48.12,360.31 47.15,361.74 46.25,363.18 45.43,364.62 44.72,366.05 44.11,367.49 43.63,368.93 43.28,370.36 43.07,371.8 43,373.23 42.8,373.23 42.8,346.23" fill="url(#blue0)"/>
<polyline points="58.1,339.57 58.04,341 57.87,342.44 57.58,343.88 57.19,345.31 56.69,346.75 56.11,348.18 55.44,349.62 54.7,351.06 53.9,352.49 53.06,353.93 52.19,355.36 51.3,356.8 50.22,358.24 49.15,359.67 48.12,361.11 47.15,362.54 46.25,363.98 45.43,365.42 44.72,366.85 44.11,368.29 43.63,369.73 43.28,371.16 43.07,372.6 43,374.03" fill="none" stroke="#858a8e" stroke-width="1.2" opacity="0.9"/>
<polyline points="59.6,346.77 59.53,348.2 59.32,349.64 58.97,351.07 58.49,352.51 57.88,353.95 57.17,355.38 56.35,356.82 55.45,358.26 54.48,359.69 53.45,361.13 52.38,362.56 51.3,364 50.41,365.44 49.54,366.87 48.7,368.31 47.9,369.74 47.16,371.18 46.49,372.62 45.91,374.05 45.41,375.49 45.02,376.93 44.73,378.36 44.56,379.8 44.5,381.23" fill="none" stroke="#a3a8ab" stroke-width="1" opacity="0.7"/>
<polygon points="44.5,381.73 44.56,380.3 44.73,378.86 45.02,377.43 45.41,375.99 45.91,374.55 46.49,373.12 47.16,371.68 47.9,370.24 48.7,368.81 49.54,367.37 50.41,365.94 51.3,364.5 52.38,363.06 53.45,361.63 54.48,360.19 55.45,358.76 56.35,357.32 57.17,355.88 57.88,354.45 58.49,353.01 58.97,351.57 59.32,350.14 59.53,348.7 59.6,347.27 59.8,347.27 59.8,369 59.6,369 59.53,369.92 59.32,370.83 58.97,371.75 58.49,372.67 57.88,373.58 57.17,374.5 56.35,375.42 55.45,376.33 54.48,377.25 53.45,378.17 52.38,379.08 51.3,380 50.22,380.92 49.15,381.83 48.12,382.75 47.15,383.67 46.25,384.58 45.43,385.5 44.72,386.42 44.11,387.33 43.63,388.25 43.28,389.17 43.07,390.08 43,391 42.8,391 42.8,381.73" fill="url(#blue0)"/>
</g>
<polygon points="52,215 60.8,220.5 61.2,222 61.2,226 60.7,233 59.1,239.5 43.6,239.5 43.3,233 42.8,227 42.8,222 43.2,220.5" fill="url(#blue0)"/>
<polygon points="51.2,215.2 52.3,215 60.9,220.5 61,222.9 60,222.5 52.6,217.2" fill="#a3a5a7"/>
<polyline points="43.2,220.9 51.7,215.5" fill="none" stroke="#86a4b4" stroke-width="0.9"/>
<path d="M46.94 236 L46.94 227.5 Q47.4 225 52 224.5 Q56.6 225 57.06 228.5 L57.06 232" fill="none" stroke="#1a86bd" stroke-width="0.7" opacity="0.3"/>
<rect x="152.8" y="232" width="15" height="222.5" fill="url(#cyl1)"/>
<path d="M152.8 454 L152.8 459 C152.8 464.85 148.3 466.8 148.3 472 L148.3 515.8 L149.8 517.3 C151.3 519.3 152.5 520.8 152.5 523.8 C152.5 526.8 150.8 528 149.3 530 L148.3 531.5 L148.3 552.6 Q148.3 555.6 151.3 555.6 L169.3 555.6 Q172.3 555.6 172.3 552.6 L172.3 531.5 L171.3 530 C169.8 528 168.1 526.8 168.1 523.8 C168.1 520.8 169.3 519.3 170.8 517.3 L172.3 515.8 L172.3 472 C172.3 466.8 167.8 464.85 167.8 459 L167.8 454Z" fill="url(#hex1)"/>
<path d="M152.8 454 L152.8 459 C152.8 464.85 148.3 466.8 148.3 472 Q153.1 468.5 154.78 471 Q161.5 466.5 168.7 471 Q170.5 469 172.3 472 C172.3 466.8 167.8 464.85 167.8 459 L167.8 454Z" fill="url(#neck1)"/>
<rect x="148.3" y="517.3" width="24" height="13.7" fill="url(#gr1)" clip-path="url(#hc1)"/>
<rect x="148.3" y="552.6" width="24" height="3" fill="#000" opacity="0.08" clip-path="url(#hc1)"/>
<rect x="150.3" y="232" width="20" height="170.67" fill="#fff"/>
<g clip-path="url(#clip1)">
<rect x="150.8" y="232" width="19" height="192.5" fill="url(#cyl1)"/>
<polygon points="150.8,232 169.8,232 169.8,379.44 169.6,379.44 169.52,380.86 169.28,382.28 168.89,383.7 168.35,385.12 167.68,386.55 166.88,387.97 165.96,389.39 164.95,390.81 163.86,392.23 162.71,393.66 161.51,395.08 160.3,396.5 159.28,397.92 158.28,399.34 157.32,400.77 156.4,402.19 155.55,403.61 154.78,405.03 154.11,406.45 153.55,407.88 153.09,409.3 152.77,410.72 152.57,412.14 152.5,413.56 150.8,413.56" fill="url(#st1)" opacity="0.55"/>
<polygon points="150.8,231 169.8,231 169.8,233.44 168.1,233.44 168.03,234.86 167.83,236.28 167.51,237.7 167.05,239.12 166.49,240.55 165.82,241.97 165.05,243.39 164.2,244.81 163.28,246.23 162.32,247.66 161.32,249.08 160.3,250.5 159.09,251.92 157.89,253.34 156.74,254.77 155.65,256.19 154.64,257.61 153.72,259.03 152.92,260.45 152.25,261.88 151.71,263.3 151.32,264.72 151.08,266.14 151,267.56 150.8,267.56" fill="url(#blue1)"/>
<polyline points="168.1,234.24 168.03,235.66 167.83,237.08 167.51,238.5 167.05,239.93 166.49,241.35 165.82,242.77 165.05,244.19 164.2,245.61 163.28,247.03 162.32,248.46 161.32,249.88 160.3,251.3 159.09,252.72 157.89,254.14 156.74,255.57 155.65,256.99 154.64,258.41 153.72,259.83 152.92,261.25 152.25,262.68 151.71,264.1 151.32,265.52 151.08,266.94 151,268.36" fill="none" stroke="#858a8e" stroke-width="1.33" opacity="0.9"/>
<polyline points="169.6,242.44 169.52,243.86 169.28,245.28 168.89,246.7 168.35,248.12 167.68,249.55 166.88,250.97 165.96,252.39 164.95,253.81 163.86,255.23 162.71,256.66 161.51,258.08 160.3,259.5 159.28,260.92 158.28,262.34 157.32,263.77 156.4,265.19 155.55,266.61 154.78,268.03 154.11,269.45 153.55,270.88 153.09,272.3 152.77,273.72 152.57,275.14 152.5,276.56" fill="none" stroke="#a3a8ab" stroke-width="1" opacity="0.7"/>
<polygon points="152.5,277.06 152.57,275.64 152.77,274.22 153.09,272.8 153.55,271.38 154.11,269.95 154.78,268.53 155.55,267.11 156.4,265.69 157.32,264.27 158.28,262.84 159.28,261.42 160.3,260 161.51,258.58 162.71,257.16 163.86,255.73 164.95,254.31 165.96,252.89 166.88,251.47 167.68,250.05 168.35,248.62 168.89,247.2 169.28,245.78 169.52,244.36 169.6,242.94 169.8,242.94 169.8,266.34 168.1,266.34 168.03,267.76 167.83,269.18 167.51,270.6 167.05,272.02 166.49,273.45 165.82,274.87 165.05,276.29 164.2,277.71 163.28,279.13 162.32,280.56 161.32,281.98 160.3,283.4 159.09,284.82 157.89,286.24 156.74,287.67 155.65,289.09 154.64,290.51 153.72,291.93 152.92,293.35 152.25,294.77 151.71,296.2 151.32,297.62 151.08,299.04 151,300.46 150.8,300.46 150.8,277.06" fill="url(#blue1)"/>
<polyline points="168.1,267.14 168.03,268.56 167.83,269.98 167.51,271.4 167.05,272.82 166.49,274.25 165.82,275.67 165.05,277.09 164.2,278.51 163.28,279.93 162.32,281.36 161.32,282.78 160.3,284.2 159.09,285.62 157.89,287.04 156.74,288.47 155.65,289.89 154.64,291.31 153.72,292.73 152.92,294.15 152.25,295.57 151.71,297 151.32,298.42 151.08,299.84 151,301.26" fill="none" stroke="#858a8e" stroke-width="1.33" opacity="0.9"/>
<polyline points="169.6,275.34 169.52,276.76 169.28,278.18 168.89,279.6 168.35,281.02 167.68,282.45 166.88,283.87 165.96,285.29 164.95,286.71 163.86,288.13 162.71,289.56 161.51,290.98 160.3,292.4 159.28,293.82 158.28,295.24 157.32,296.67 156.4,298.09 155.55,299.51 154.78,300.93 154.11,302.35 153.55,303.77 153.09,305.2 152.77,306.62 152.57,308.04 152.5,309.46" fill="none" stroke="#a3a8ab" stroke-width="1" opacity="0.7"/>
<polygon points="152.5,309.96 152.57,308.54 152.77,307.12 153.09,305.7 153.55,304.27 154.11,302.85 154.78,301.43 155.55,300.01 156.4,298.59 157.32,297.17 158.28,295.74 159.28,294.32 160.3,292.9 161.51,291.48 162.71,290.06 163.86,288.63 164.95,287.21 165.96,285.79 166.88,284.37 167.68,282.95 168.35,281.52 168.89,280.1 169.28,278.68 169.52,277.26 169.6,275.84 169.8,275.84 169.8,300.34 168.1,300.34 168.03,301.76 167.83,303.18 167.51,304.6 167.05,306.02 166.49,307.45 165.82,308.87 165.05,310.29 164.2,311.71 163.28,313.13 162.32,314.56 161.32,315.98 160.3,317.4 159.09,318.82 157.89,320.24 156.74,321.67 155.65,323.09 154.64,324.51 153.72,325.93 152.92,327.35 152.25,328.77 151.71,330.2 151.32,331.62 151.08,333.04 151,334.46 150.8,334.46 150.8,309.96" fill="url(#blue1)"/>
<polyline points="168.1,301.14 168.03,302.56 167.83,303.98 167.51,305.4 167.05,306.82 166.49,308.25 165.82,309.67 165.05,311.09 164.2,312.51 163.28,313.93 162.32,315.36 161.32,316.78 160.3,318.2 159.09,319.62 157.89,321.04 156.74,322.47 155.65,323.89 154.64,325.31 153.72,326.73 152.92,328.15 152.25,329.57 151.71,331 151.32,332.42 151.08,333.84 151,335.26" fill="none" stroke="#858a8e" stroke-width="1.33" opacity="0.9"/>
<polyline points="169.6,309.34 169.52,310.76 169.28,312.18 168.89,313.6 168.35,315.02 167.68,316.45 166.88,317.87 165.96,319.29 164.95,320.71 163.86,322.13 162.71,323.56 161.51,324.98 160.3,326.4 159.28,327.82 158.28,329.24 157.32,330.67 156.4,332.09 155.55,333.51 154.78,334.93 154.11,336.35 153.55,337.77 153.09,339.2 152.77,340.62 152.57,342.04 152.5,343.46" fill="none" stroke="#a3a8ab" stroke-width="1" opacity="0.7"/>
<polygon points="152.5,343.96 152.57,342.54 152.77,341.12 153.09,339.7 153.55,338.27 154.11,336.85 154.78,335.43 155.55,334.01 156.4,332.59 157.32,331.17 158.28,329.74 159.28,328.32 160.3,326.9 161.51,325.48 162.71,324.06 163.86,322.63 164.95,321.21 165.96,319.79 166.88,318.37 167.68,316.95 168.35,315.52 168.89,314.1 169.28,312.68 169.52,311.26 169.6,309.84 169.8,309.84 169.8,335.94 168.1,335.94 168.03,337.36 167.83,338.78 167.51,340.2 167.05,341.62 166.49,343.05 165.82,344.47 165.05,345.89 164.2,347.31 163.28,348.73 162.32,350.16 161.32,351.58 160.3,353 159.09,354.42 157.89,355.84 156.74,357.27 155.65,358.69 154.64,360.11 153.72,361.53 152.92,362.95 152.25,364.38 151.71,365.8 151.32,367.22 151.08,368.64 151,370.06 150.8,370.06 150.8,343.96" fill="url(#blue1)"/>
<polyline points="168.1,336.74 168.03,338.16 167.83,339.58 167.51,341 167.05,342.43 166.49,343.85 165.82,345.27 165.05,346.69 164.2,348.11 163.28,349.53 162.32,350.96 161.32,352.38 160.3,353.8 159.09,355.22 157.89,356.64 156.74,358.07 155.65,359.49 154.64,360.91 153.72,362.33 152.92,363.75 152.25,365.18 151.71,366.6 151.32,368.02 151.08,369.44 151,370.86" fill="none" stroke="#858a8e" stroke-width="1.33" opacity="0.9"/>
<polyline points="169.6,344.94 169.52,346.36 169.28,347.78 168.89,349.2 168.35,350.62 167.68,352.05 166.88,353.47 165.96,354.89 164.95,356.31 163.86,357.73 162.71,359.16 161.51,360.58 160.3,362 159.28,363.42 158.28,364.84 157.32,366.27 156.4,367.69 155.55,369.11 154.78,370.53 154.11,371.95 153.55,373.38 153.09,374.8 152.77,376.22 152.57,377.64 152.5,379.06" fill="none" stroke="#a3a8ab" stroke-width="1" opacity="0.7"/>
<polygon points="152.5,379.56 152.57,378.14 152.77,376.72 153.09,375.3 153.55,373.88 154.11,372.45 154.78,371.03 155.55,369.61 156.4,368.19 157.32,366.77 158.28,365.34 159.28,363.92 160.3,362.5 161.51,361.08 162.71,359.66 163.86,358.23 164.95,356.81 165.96,355.39 166.88,353.97 167.68,352.55 168.35,351.12 168.89,349.7 169.28,348.28 169.52,346.86 169.6,345.44 169.8,345.44 169.8,369.94 168.1,369.94 168.03,371.36 167.83,372.78 167.51,374.2 167.05,375.62 166.49,377.05 165.82,378.47 165.05,379.89 164.2,381.31 163.28,382.73 162.32,384.16 161.32,385.58 160.3,387 159.09,388.42 157.89,389.84 156.74,391.27 155.65,392.69 154.64,394.11 153.72,395.53 152.92,396.95 152.25,398.38 151.71,399.8 151.32,401.22 151.08,402.64 151,404.06 150.8,404.06 150.8,379.56" fill="url(#blue1)"/>
<polyline points="168.1,370.74 168.03,372.16 167.83,373.58 167.51,375 167.05,376.43 166.49,377.85 165.82,379.27 165.05,380.69 164.2,382.11 163.28,383.53 162.32,384.96 161.32,386.38 160.3,387.8 159.09,389.22 157.89,390.64 156.74,392.07 155.65,393.49 154.64,394.91 153.72,396.33 152.92,397.75 152.25,399.18 151.71,400.6 151.32,402.02 151.08,403.44 151,404.86" fill="none" stroke="#858a8e" stroke-width="1.33" opacity="0.9"/>
<polyline points="169.6,378.94 169.52,380.36 169.28,381.78 168.89,383.2 168.35,384.62 167.68,386.05 166.88,387.47 165.96,388.89 164.95,390.31 163.86,391.73 162.71,393.16 161.51,394.58 160.3,396 159.28,397.42 158.28,398.84 157.32,400.27 156.4,401.69 155.55,403.11 154.78,404.53 154.11,405.95 153.55,407.38 153.09,408.8 152.77,410.22 152.57,411.64 152.5,413.06" fill="none" stroke="#a3a8ab" stroke-width="1" opacity="0.7"/>
<polygon points="152.5,413.56 152.57,412.14 152.77,410.72 153.09,409.3 153.55,407.88 154.11,406.45 154.78,405.03 155.55,403.61 156.4,402.19 157.32,400.77 158.28,399.34 159.28,397.92 160.3,396.5 161.51,395.08 162.71,393.66 163.86,392.23 164.95,390.81 165.96,389.39 166.88,387.97 167.68,386.55 168.35,385.12 168.89,383.7 169.28,382.28 169.52,380.86 169.6,379.44 169.8,379.44 169.8,404.5 169.6,404.5 169.52,405.29 169.28,406.08 168.89,406.88 168.35,407.67 167.68,408.46 166.88,409.25 165.96,410.04 164.95,410.83 163.86,411.62 162.71,412.42 161.51,413.21 160.3,414 159.09,414.79 157.89,415.58 156.74,416.38 155.65,417.17 154.64,417.96 153.72,418.75 152.92,419.54 152.25,420.33 151.71,421.12 151.32,421.92 151.08,422.71 151,423.5 150.8,423.5 150.8,413.56" fill="url(#blue1)"/>
</g>
<polygon points="160.3,214.7 170.15,220.5 170.55,222 170.55,220 170.05,227 169.1,233.5 151.6,233.5 150.55,227 150.05,221 150.05,222 150.45,220.5" fill="url(#blue1)"/>
<polygon points="159.5,214.9 160.6,214.7 170.25,220.5 170.35,223.05 169.35,222.65 160.9,217.05" fill="#a3a5a7"/>
<polyline points="150.45,220.9 160,215.2" fill="none" stroke="#86a4b4" stroke-width="0.9"/>
<path d="M154.66 230 L154.66 227.5 Q155.18 225 160.3 224.5 Q165.43 225 165.94 228.5 L165.94 226" fill="none" stroke="#1a86bd" stroke-width="0.7" opacity="0.3"/>
<rect x="247.05" y="238" width="18.5" height="217.3" fill="url(#cyl2)"/>
<path d="M247.05 454.8 L247.05 461 C247.05 466.85 244.05 468.8 244.05 474 L244.05 515.8 L245.55 517.3 C247.05 519.3 248.5 520.8 248.5 523.8 C248.5 526.8 246.55 528 245.05 530 L244.05 531.5 L244.05 552.6 Q244.05 555.6 247.05 555.6 L265.55 555.6 Q268.55 555.6 268.55 552.6 L268.55 531.5 L267.55 530 C266.05 528 264.1 526.8 264.1 523.8 C264.1 520.8 265.55 519.3 267.05 517.3 L268.55 515.8 L268.55 474 C268.55 468.8 265.55 466.85 265.55 461 L265.55 454.8Z" fill="url(#hex2)"/>
<path d="M247.05 454.8 L247.05 461 C247.05 466.85 244.05 468.8 244.05 474 Q248.95 470.5 250.67 473 Q257.53 468.5 264.88 473 Q266.71 471 268.55 474 C268.55 468.8 265.55 466.85 265.55 461 L265.55 454.8Z" fill="url(#neck2)"/>
<rect x="244.05" y="517.3" width="24.5" height="13.7" fill="url(#gr2)" clip-path="url(#hc2)"/>
<rect x="244.05" y="552.6" width="24.5" height="3" fill="#000" opacity="0.08" clip-path="url(#hc2)"/>
<rect x="244.8" y="238" width="23" height="152.98" fill="#fff"/>
<g clip-path="url(#clip2)">
<rect x="245.3" y="238" width="22" height="187" fill="url(#cyl2)"/>
<polygon points="245.3,238 267.3,238 267.3,363.62 267.1,363.62 267.01,365.27 266.73,366.93 266.28,368.59 265.65,370.24 264.87,371.9 263.94,373.56 262.87,375.22 261.7,376.87 260.43,378.53 259.1,380.19 257.71,381.84 256.3,383.5 255.1,385.16 253.92,386.81 252.78,388.47 251.7,390.13 250.7,391.78 249.79,393.44 249,395.1 248.33,396.76 247.8,398.41 247.41,400.07 247.18,401.73 247.1,403.38 245.3,403.38" fill="url(#st2)" opacity="0.55"/>
<polygon points="245.3,237 267.3,237 267.3,233.82 265.5,233.82 265.42,235.47 265.19,237.13 264.8,238.79 264.27,240.44 263.6,242.1 262.81,243.76 261.9,245.42 260.9,247.07 259.82,248.73 258.68,250.39 257.5,252.04 256.3,253.7 254.89,255.36 253.5,257.01 252.17,258.67 250.9,260.33 249.73,261.98 248.66,263.64 247.73,265.3 246.95,266.96 246.32,268.61 245.87,270.27 245.59,271.93 245.5,273.58 245.3,273.58" fill="url(#blue2)"/>
<polyline points="265.5,234.62 265.42,236.27 265.19,237.93 264.8,239.59 264.27,241.24 263.6,242.9 262.81,244.56 261.9,246.22 260.9,247.87 259.82,249.53 258.68,251.19 257.5,252.84 256.3,254.5 254.89,256.16 253.5,257.81 252.17,259.47 250.9,261.13 249.73,262.78 248.66,264.44 247.73,266.1 246.95,267.76 246.32,269.41 245.87,271.07 245.59,272.73 245.5,274.38" fill="none" stroke="#858a8e" stroke-width="1.47" opacity="0.9"/>
<polyline points="267.1,243.82 267.01,245.47 266.73,247.13 266.28,248.79 265.65,250.44 264.87,252.1 263.94,253.76 262.87,255.42 261.7,257.07 260.43,258.73 259.1,260.39 257.71,262.04 256.3,263.7 255.1,265.36 253.92,267.01 252.78,268.67 251.7,270.33 250.7,271.98 249.79,273.64 249,275.3 248.33,276.96 247.8,278.61 247.41,280.27 247.18,281.93 247.1,283.58" fill="none" stroke="#a3a8ab" stroke-width="1" opacity="0.7"/>
<polygon points="247.1,284.08 247.18,282.43 247.41,280.77 247.8,279.11 248.33,277.46 249,275.8 249.79,274.14 250.7,272.48 251.7,270.83 252.78,269.17 253.92,267.51 255.1,265.86 256.3,264.2 257.71,262.54 259.1,260.89 260.43,259.23 261.7,257.57 262.87,255.92 263.94,254.26 264.87,252.6 265.65,250.94 266.28,249.29 266.73,247.63 267.01,245.97 267.1,244.32 267.3,244.32 267.3,273.12 265.5,273.12 265.42,274.77 265.19,276.43 264.8,278.09 264.27,279.74 263.6,281.4 262.81,283.06 261.9,284.72 260.9,286.37 259.82,288.03 258.68,289.69 257.5,291.34 256.3,293 254.89,294.66 253.5,296.31 252.17,297.97 250.9,299.63 249.73,301.28 248.66,302.94 247.73,304.6 246.95,306.26 246.32,307.91 245.87,309.57 245.59,311.23 245.5,312.88 245.3,312.88 245.3,284.08" fill="url(#blue2)"/>
<polyline points="265.5,273.92 265.42,275.57 265.19,277.23 264.8,278.89 264.27,280.54 263.6,282.2 262.81,283.86 261.9,285.52 260.9,287.17 259.82,288.83 258.68,290.49 257.5,292.14 256.3,293.8 254.89,295.46 253.5,297.11 252.17,298.77 250.9,300.43 249.73,302.08 248.66,303.74 247.73,305.4 246.95,307.06 246.32,308.71 245.87,310.37 245.59,312.03 245.5,313.68" fill="none" stroke="#858a8e" stroke-width="1.47" opacity="0.9"/>
<polyline points="267.1,283.12 267.01,284.77 266.73,286.43 266.28,288.09 265.65,289.74 264.87,291.4 263.94,293.06 262.87,294.72 261.7,296.37 260.43,298.03 259.1,299.69 257.71,301.34 256.3,303 255.1,304.66 253.92,306.31 252.78,307.97 251.7,309.63 250.7,311.28 249.79,312.94 249,314.6 248.33,316.26 247.8,317.91 247.41,319.57 247.18,321.23 247.1,322.88" fill="none" stroke="#a3a8ab" stroke-width="1" opacity="0.7"/>
<polygon points="247.1,323.38 247.18,321.73 247.41,320.07 247.8,318.41 248.33,316.76 249,315.1 249.79,313.44 250.7,311.78 251.7,310.13 252.78,308.47 253.92,306.81 255.1,305.16 256.3,303.5 257.71,301.84 259.1,300.19 260.43,298.53 261.7,296.87 262.87,295.22 263.94,293.56 264.87,291.9 265.65,290.24 266.28,288.59 266.73,286.93 267.01,285.27 267.1,283.62 267.3,283.62 267.3,313.62 265.5,313.62 265.42,315.27 265.19,316.93 264.8,318.59 264.27,320.24 263.6,321.9 262.81,323.56 261.9,325.22 260.9,326.87 259.82,328.53 258.68,330.19 257.5,331.84 256.3,333.5 254.89,335.16 253.5,336.81 252.17,338.47 250.9,340.13 249.73,341.78 248.66,343.44 247.73,345.1 246.95,346.76 246.32,348.41 245.87,350.07 245.59,351.73 245.5,353.38 245.3,353.38 245.3,323.38" fill="url(#blue2)"/>
<polyline points="265.5,314.42 265.42,316.07 265.19,317.73 264.8,319.39 264.27,321.04 263.6,322.7 262.81,324.36 261.9,326.02 260.9,327.67 259.82,329.33 258.68,330.99 257.5,332.64 256.3,334.3 254.89,335.96 253.5,337.61 252.17,339.27 250.9,340.93 249.73,342.58 248.66,344.24 247.73,345.9 246.95,347.56 246.32,349.21 245.87,350.87 245.59,352.53 245.5,354.18" fill="none" stroke="#858a8e" stroke-width="1.47" opacity="0.9"/>
<polyline points="267.1,323.62 267.01,325.27 266.73,326.93 266.28,328.59 265.65,330.24 264.87,331.9 263.94,333.56 262.87,335.22 261.7,336.87 260.43,338.53 259.1,340.19 257.71,341.84 256.3,343.5 255.1,345.16 253.92,346.81 252.78,348.47 251.7,350.13 250.7,351.78 249.79,353.44 249,355.1 248.33,356.76 247.8,358.41 247.41,360.07 247.18,361.73 247.1,363.38" fill="none" stroke="#a3a8ab" stroke-width="1" opacity="0.7"/>
<polygon points="247.1,363.88 247.18,362.23 247.41,360.57 247.8,358.91 248.33,357.26 249,355.6 249.79,353.94 250.7,352.28 251.7,350.63 252.78,348.97 253.92,347.31 255.1,345.66 256.3,344 257.71,342.34 259.1,340.69 260.43,339.03 261.7,337.37 262.87,335.72 263.94,334.06 264.87,332.4 265.65,330.74 266.28,329.09 266.73,327.43 267.01,325.77 267.1,324.12 267.3,324.12 267.3,353.12 265.5,353.12 265.42,354.77 265.19,356.43 264.8,358.09 264.27,359.74 263.6,361.4 262.81,363.06 261.9,364.72 260.9,366.37 259.82,368.03 258.68,369.69 257.5,371.34 256.3,373 254.89,374.66 253.5,376.31 252.17,377.97 250.9,379.63 249.73,381.28 248.66,382.94 247.73,384.6 246.95,386.26 246.32,387.91 245.87,389.57 245.59,391.23 245.5,392.88 245.3,392.88 245.3,363.88" fill="url(#blue2)"/>
<polyline points="265.5,353.92 265.42,355.57 265.19,357.23 264.8,358.89 264.27,360.54 263.6,362.2 262.81,363.86 261.9,365.52 260.9,367.17 259.82,368.83 258.68,370.49 257.5,372.14 256.3,373.8 254.89,375.46 253.5,377.11 252.17,378.77 250.9,380.43 249.73,382.08 248.66,383.74 247.73,385.4 246.95,387.06 246.32,388.71 245.87,390.37 245.59,392.03 245.5,393.68" fill="none" stroke="#858a8e" stroke-width="1.47" opacity="0.9"/>
<polyline points="267.1,363.12 267.01,364.77 266.73,366.43 266.28,368.09 265.65,369.74 264.87,371.4 263.94,373.06 262.87,374.72 261.7,376.37 260.43,378.03 259.1,379.69 257.71,381.34 256.3,383 255.1,384.66 253.92,386.31 252.78,387.97 251.7,389.63 250.7,391.28 249.79,392.94 249,394.6 248.33,396.26 247.8,397.91 247.41,399.57 247.18,401.23 247.1,402.88" fill="none" stroke="#a3a8ab" stroke-width="1" opacity="0.7"/>
<polygon points="247.1,403.38 247.18,401.73 247.41,400.07 247.8,398.41 248.33,396.76 249,395.1 249.79,393.44 250.7,391.78 251.7,390.13 252.78,388.47 253.92,386.81 255.1,385.16 256.3,383.5 257.71,381.84 259.1,380.19 260.43,378.53 261.7,376.87 262.87,375.22 263.94,373.56 264.87,371.9 265.65,370.24 266.28,368.59 266.73,366.93 267.01,365.27 267.1,363.62 267.3,363.62 267.3,390 267.1,390 267.01,391.42 266.73,392.83 266.28,394.25 265.65,395.67 264.87,397.08 263.94,398.5 262.87,399.92 261.7,401.33 260.43,402.75 259.1,404.17 257.71,405.58 256.3,407 254.89,408.42 253.5,409.83 252.17,411.25 250.9,412.67 249.73,414.08 248.66,415.5 247.73,416.92 246.95,418.33 246.32,419.75 245.87,421.17 245.59,422.58 245.5,424 245.3,424 245.3,403.38" fill="url(#blue2)"/>
</g>
<polygon points="256.3,215 266.65,221 267.05,222.5 267.05,226 266.55,233 266.6,239.5 246.1,239.5 246.05,233 245.55,227 245.55,222.5 245.95,221" fill="url(#blue2)"/>
<polygon points="255.5,215.2 256.6,215 266.75,221 266.85,223.64 265.85,223.24 256.9,217.44" fill="#a3a5a7"/>
<polyline points="245.95,221.4 256,215.5" fill="none" stroke="#86a4b4" stroke-width="0.9"/>
<path d="M250.39 236 L250.39 228 Q250.93 225.5 256.3 225 Q261.68 225.5 262.21 229 L262.21 232" fill="none" stroke="#1a86bd" stroke-width="0.7" opacity="0.3"/>
<rect x="349.3" y="64" width="19" height="365.5" fill="url(#cyl3)"/>
<path d="M349.3 429 L349.3 433 C349.3 439.75 346.45 442 346.45 448 L346.45 515.8 L347.95 517.3 C349.45 519.3 351 520.8 351 523.8 C351 526.8 348.95 528 347.45 530 L346.45 531.5 L346.45 552.6 Q346.45 555.6 349.45 555.6 L368.15 555.6 Q371.15 555.6 371.15 552.6 L371.15 531.5 L370.15 530 C368.65 528 366.6 526.8 366.6 523.8 C366.6 520.8 368.15 519.3 369.65 517.3 L371.15 515.8 L371.15 448 C371.15 442 368.3 439.75 368.3 433 L368.3 429Z" fill="url(#hex3)"/>
<path d="M349.3 429 L349.3 433 C349.3 439.75 346.45 442 346.45 448 Q351.39 444.5 353.12 447 Q360.04 442.5 367.44 447 Q369.3 445 371.15 448 C371.15 442 368.3 439.75 368.3 433 L368.3 429Z" fill="url(#neck3)"/>
<rect x="346.45" y="517.3" width="24.7" height="13.7" fill="url(#gr3)" clip-path="url(#hc3)"/>
<rect x="346.45" y="552.6" width="24.7" height="3" fill="#000" opacity="0.08" clip-path="url(#hc3)"/>
<rect x="347.8" y="64" width="22" height="272.82" fill="#fff"/>
<g clip-path="url(#clip3)">
<rect x="348.3" y="64" width="21" height="312" fill="url(#cyl3)"/>
<polygon points="348.3,64 369.3,64 369.3,309.51 369.1,309.51 369.01,311.16 368.75,312.81 368.32,314.46 367.72,316.11 366.97,317.75 366.08,319.4 365.07,321.05 363.95,322.7 362.74,324.35 361.47,326 360.14,327.65 358.8,329.3 357.66,330.95 356.54,332.6 355.46,334.25 354.43,335.9 353.48,337.55 352.62,339.2 351.87,340.85 351.23,342.49 350.73,344.14 350.36,345.79 350.13,347.44 350.06,349.09 348.3,349.09" fill="url(#st3)" opacity="0.55"/>
<polygon points="348.3,63 369.3,63 369.3,61.71 367.54,61.71 367.47,63.36 367.24,65.01 366.87,66.66 366.37,68.31 365.73,69.95 364.98,71.6 364.12,73.25 363.17,74.9 362.14,76.55 361.06,78.2 359.94,79.85 358.8,81.5 357.46,83.15 356.13,84.8 354.86,86.45 353.65,88.1 352.53,89.75 351.52,91.4 350.63,93.05 349.88,94.69 349.28,96.34 348.85,97.99 348.59,99.64 348.5,101.29 348.3,101.29" fill="url(#blue3)"/>
<polyline points="367.54,62.51 367.47,64.16 367.24,65.81 366.87,67.46 366.37,69.11 365.73,70.75 364.98,72.4 364.12,74.05 363.17,75.7 362.14,77.35 361.06,79 359.94,80.65 358.8,82.3 357.46,83.95 356.13,85.6 354.86,87.25 353.65,88.9 352.53,90.55 351.52,92.2 350.63,93.85 349.88,95.49 349.28,97.14 348.85,98.79 348.59,100.44 348.5,102.09" fill="none" stroke="#858a8e" stroke-width="1.44" opacity="0.9"/>
<polyline points="369.1,71.51 369.01,73.16 368.75,74.81 368.32,76.46 367.72,78.11 366.97,79.75 366.08,81.4 365.07,83.05 363.95,84.7 362.74,86.35 361.47,88 360.14,89.65 358.8,91.3 357.66,92.95 356.54,94.6 355.46,96.25 354.43,97.9 353.48,99.55 352.62,101.2 351.87,102.85 351.23,104.49 350.73,106.14 350.36,107.79 350.13,109.44 350.06,111.09" fill="none" stroke="#a3a8ab" stroke-width="1" opacity="0.7"/>
<polygon points="350.06,111.59 350.13,109.94 350.36,108.29 350.73,106.64 351.23,104.99 351.87,103.35 352.62,101.7 353.48,100.05 354.43,98.4 355.46,96.75 356.54,95.1 357.66,93.45 358.8,91.8 360.14,90.15 361.47,88.5 362.74,86.85 363.95,85.2 365.07,83.55 366.08,81.9 366.97,80.25 367.72,78.61 368.32,76.96 368.75,75.31 369.01,73.66 369.1,72.01 369.3,72.01 369.3,101.01 367.54,101.01 367.47,102.66 367.24,104.31 366.87,105.96 366.37,107.61 365.73,109.25 364.98,110.9 364.12,112.55 363.17,114.2 362.14,115.85 361.06,117.5 359.94,119.15 358.8,120.8 357.46,122.45 356.13,124.1 354.86,125.75 353.65,127.4 352.53,129.05 351.52,130.7 350.63,132.35 349.88,133.99 349.28,135.64 348.85,137.29 348.59,138.94 348.5,140.59 348.3,140.59 348.3,111.59" fill="url(#blue3)"/>
<polyline points="367.54,101.81 367.47,103.46 367.24,105.11 366.87,106.76 366.37,108.41 365.73,110.05 364.98,111.7 364.12,113.35 363.17,115 362.14,116.65 361.06,118.3 359.94,119.95 358.8,121.6 357.46,123.25 356.13,124.9 354.86,126.55 353.65,128.2 352.53,129.85 351.52,131.5 350.63,133.15 349.88,134.79 349.28,136.44 348.85,138.09 348.59,139.74 348.5,141.39" fill="none" stroke="#858a8e" stroke-width="1.44" opacity="0.9"/>
<polyline points="369.1,110.81 369.01,112.46 368.75,114.11 368.32,115.76 367.72,117.41 366.97,119.05 366.08,120.7 365.07,122.35 363.95,124 362.74,125.65 361.47,127.3 360.14,128.95 358.8,130.6 357.66,132.25 356.54,133.9 355.46,135.55 354.43,137.2 353.48,138.85 352.62,140.5 351.87,142.15 351.23,143.79 350.73,145.44 350.36,147.09 350.13,148.74 350.06,150.39" fill="none" stroke="#a3a8ab" stroke-width="1" opacity="0.7"/>
<polygon points="350.06,150.89 350.13,149.24 350.36,147.59 350.73,145.94 351.23,144.29 351.87,142.65 352.62,141 353.48,139.35 354.43,137.7 355.46,136.05 356.54,134.4 357.66,132.75 358.8,131.1 360.14,129.45 361.47,127.8 362.74,126.15 363.95,124.5 365.07,122.85 366.08,121.2 366.97,119.55 367.72,117.91 368.32,116.26 368.75,114.61 369.01,112.96 369.1,111.31 369.3,111.31 369.3,141.21 367.54,141.21 367.47,142.86 367.24,144.51 366.87,146.16 366.37,147.81 365.73,149.45 364.98,151.1 364.12,152.75 363.17,154.4 362.14,156.05 361.06,157.7 359.94,159.35 358.8,161 357.46,162.65 356.13,164.3 354.86,165.95 353.65,167.6 352.53,169.25 351.52,170.9 350.63,172.55 349.88,174.19 349.28,175.84 348.85,177.49 348.59,179.14 348.5,180.79 348.3,180.79 348.3,150.89" fill="url(#blue3)"/>
<polyline points="367.54,142.01 367.47,143.66 367.24,145.31 366.87,146.96 366.37,148.61 365.73,150.25 364.98,151.9 364.12,153.55 363.17,155.2 362.14,156.85 361.06,158.5 359.94,160.15 358.8,161.8 357.46,163.45 356.13,165.1 354.86,166.75 353.65,168.4 352.53,170.05 351.52,171.7 350.63,173.35 349.88,174.99 349.28,176.64 348.85,178.29 348.59,179.94 348.5,181.59" fill="none" stroke="#858a8e" stroke-width="1.44" opacity="0.9"/>
<polyline points="369.1,151.01 369.01,152.66 368.75,154.31 368.32,155.96 367.72,157.61 366.97,159.25 366.08,160.9 365.07,162.55 363.95,164.2 362.74,165.85 361.47,167.5 360.14,169.15 358.8,170.8 357.66,172.45 356.54,174.1 355.46,175.75 354.43,177.4 353.48,179.05 352.62,180.7 351.87,182.35 351.23,183.99 350.73,185.64 350.36,187.29 350.13,188.94 350.06,190.59" fill="none" stroke="#a3a8ab" stroke-width="1" opacity="0.7"/>
<polygon points="350.06,191.09 350.13,189.44 350.36,187.79 350.73,186.14 351.23,184.49 351.87,182.85 352.62,181.2 353.48,179.55 354.43,177.9 355.46,176.25 356.54,174.6 357.66,172.95 358.8,171.3 360.14,169.65 361.47,168 362.74,166.35 363.95,164.7 365.07,163.05 366.08,161.4 366.97,159.75 367.72,158.11 368.32,156.46 368.75,154.81 369.01,153.16 369.1,151.51 369.3,151.51 369.3,181.21 367.54,181.21 367.47,182.86 367.24,184.51 366.87,186.16 366.37,187.81 365.73,189.45 364.98,191.1 364.12,192.75 363.17,194.4 362.14,196.05 361.06,197.7 359.94,199.35 358.8,201 357.46,202.65 356.13,204.3 354.86,205.95 353.65,207.6 352.53,209.25 351.52,210.9 350.63,212.55 349.88,214.19 349.28,215.84 348.85,217.49 348.59,219.14 348.5,220.79 348.3,220.79 348.3,191.09" fill="url(#blue3)"/>
<polyline points="367.54,182.01 367.47,183.66 367.24,185.31 366.87,186.96 366.37,188.61 365.73,190.25 364.98,191.9 364.12,193.55 363.17,195.2 362.14,196.85 361.06,198.5 359.94,200.15 358.8,201.8 357.46,203.45 356.13,205.1 354.86,206.75 353.65,208.4 352.53,210.05 351.52,211.7 350.63,213.35 349.88,214.99 349.28,216.64 348.85,218.29 348.59,219.94 348.5,221.59" fill="none" stroke="#858a8e" stroke-width="1.44" opacity="0.9"/>
<polyline points="369.1,191.01 369.01,192.66 368.75,194.31 368.32,195.96 367.72,197.61 366.97,199.25 366.08,200.9 365.07,202.55 363.95,204.2 362.74,205.85 361.47,207.5 360.14,209.15 358.8,210.8 357.66,212.45 356.54,214.1 355.46,215.75 354.43,217.4 353.48,219.05 352.62,220.7 351.87,222.35 351.23,223.99 350.73,225.64 350.36,227.29 350.13,228.94 350.06,230.59" fill="none" stroke="#a3a8ab" stroke-width="1" opacity="0.7"/>
<polygon points="350.06,231.09 350.13,229.44 350.36,227.79 350.73,226.14 351.23,224.49 351.87,222.85 352.62,221.2 353.48,219.55 354.43,217.9 355.46,216.25 356.54,214.6 357.66,212.95 358.8,211.3 360.14,209.65 361.47,208 362.74,206.35 363.95,204.7 365.07,203.05 366.08,201.4 366.97,199.75 367.72,198.11 368.32,196.46 368.75,194.81 369.01,193.16 369.1,191.51 369.3,191.51 369.3,220.61 367.54,220.61 367.47,222.26 367.24,223.91 366.87,225.56 366.37,227.21 365.73,228.85 364.98,230.5 364.12,232.15 363.17,233.8 362.14,235.45 361.06,237.1 359.94,238.75 358.8,240.4 357.46,242.05 356.13,243.7 354.86,245.35 353.65,247 352.53,248.65 351.52,250.3 350.63,251.95 349.88,253.59 349.28,255.24 348.85,256.89 348.59,258.54 348.5,260.19 348.3,260.19 348.3,231.09" fill="url(#blue3)"/>
<polyline points="367.54,221.41 367.47,223.06 367.24,224.71 366.87,226.36 366.37,228.01 365.73,229.65 364.98,231.3 364.12,232.95 363.17,234.6 362.14,236.25 361.06,237.9 359.94,239.55 358.8,241.2 357.46,242.85 356.13,244.5 354.86,246.15 353.65,247.8 352.53,249.45 351.52,251.1 350.63,252.75 349.88,254.39 349.28,256.04 348.85,257.69 348.59,259.34 348.5,260.99" fill="none" stroke="#858a8e" stroke-width="1.44" opacity="0.9"/>
<polyline points="369.1,230.41 369.01,232.06 368.75,233.71 368.32,235.36 367.72,237.01 366.97,238.65 366.08,240.3 365.07,241.95 363.95,243.6 362.74,245.25 361.47,246.9 360.14,248.55 358.8,250.2 357.66,251.85 356.54,253.5 355.46,255.15 354.43,256.8 353.48,258.45 352.62,260.1 351.87,261.75 351.23,263.39 350.73,265.04 350.36,266.69 350.13,268.34 350.06,269.99" fill="none" stroke="#a3a8ab" stroke-width="1" opacity="0.7"/>
<polygon points="350.06,270.49 350.13,268.84 350.36,267.19 350.73,265.54 351.23,263.89 351.87,262.25 352.62,260.6 353.48,258.95 354.43,257.3 355.46,255.65 356.54,254 357.66,252.35 358.8,250.7 360.14,249.05 361.47,247.4 362.74,245.75 363.95,244.1 365.07,242.45 366.08,240.8 366.97,239.15 367.72,237.51 368.32,235.86 368.75,234.21 369.01,232.56 369.1,230.91 369.3,230.91 369.3,261.21 367.54,261.21 367.47,262.86 367.24,264.51 366.87,266.16 366.37,267.81 365.73,269.45 364.98,271.1 364.12,272.75 363.17,274.4 362.14,276.05 361.06,277.7 359.94,279.35 358.8,281 357.46,282.65 356.13,284.3 354.86,285.95 353.65,287.6 352.53,289.25 351.52,290.9 350.63,292.55 349.88,294.19 349.28,295.84 348.85,297.49 348.59,299.14 348.5,300.79 348.3,300.79 348.3,270.49" fill="url(#blue3)"/>
<polyline points="367.54,262.01 367.47,263.66 367.24,265.31 366.87,266.96 366.37,268.61 365.73,270.25 364.98,271.9 364.12,273.55 363.17,275.2 362.14,276.85 361.06,278.5 359.94,280.15 358.8,281.8 357.46,283.45 356.13,285.1 354.86,286.75 353.65,288.4 352.53,290.05 351.52,291.7 350.63,293.35 349.88,294.99 349.28,296.64 348.85,298.29 348.59,299.94 348.5,301.59" fill="none" stroke="#858a8e" stroke-width="1.44" opacity="0.9"/>
<polyline points="369.1,271.01 369.01,272.66 368.75,274.31 368.32,275.96 367.72,277.61 366.97,279.25 366.08,280.9 365.07,282.55 363.95,284.2 362.74,285.85 361.47,287.5 360.14,289.15 358.8,290.8 357.66,292.45 356.54,294.1 355.46,295.75 354.43,297.4 353.48,299.05 352.62,300.7 351.87,302.35 351.23,303.99 350.73,305.64 350.36,307.29 350.13,308.94 350.06,310.59" fill="none" stroke="#a3a8ab" stroke-width="1" opacity="0.7"/>
<polygon points="350.06,311.09 350.13,309.44 350.36,307.79 350.73,306.14 351.23,304.49 351.87,302.85 352.62,301.2 353.48,299.55 354.43,297.9 355.46,296.25 356.54,294.6 357.66,292.95 358.8,291.3 360.14,289.65 361.47,288 362.74,286.35 363.95,284.7 365.07,283.05 366.08,281.4 366.97,279.75 367.72,278.11 368.32,276.46 368.75,274.81 369.01,273.16 369.1,271.51 369.3,271.51 369.3,299.21 367.54,299.21 367.47,300.86 367.24,302.51 366.87,304.16 366.37,305.81 365.73,307.45 364.98,309.1 364.12,310.75 363.17,312.4 362.14,314.05 361.06,315.7 359.94,317.35 358.8,319 357.46,320.65 356.13,322.3 354.86,323.95 353.65,325.6 352.53,327.25 351.52,328.9 350.63,330.55 349.88,332.19 349.28,333.84 348.85,335.49 348.59,337.14 348.5,338.79 348.3,338.79 348.3,311.09" fill="url(#blue3)"/>
<polyline points="367.54,300.01 367.47,301.66 367.24,303.31 366.87,304.96 366.37,306.61 365.73,308.25 364.98,309.9 364.12,311.55 363.17,313.2 362.14,314.85 361.06,316.5 359.94,318.15 358.8,319.8 357.46,321.45 356.13,323.1 354.86,324.75 353.65,326.4 352.53,328.05 351.52,329.7 350.63,331.35 349.88,332.99 349.28,334.64 348.85,336.29 348.59,337.94 348.5,339.59" fill="none" stroke="#858a8e" stroke-width="1.44" opacity="0.9"/>
<polyline points="369.1,309.01 369.01,310.66 368.75,312.31 368.32,313.96 367.72,315.61 366.97,317.25 366.08,318.9 365.07,320.55 363.95,322.2 362.74,323.85 361.47,325.5 360.14,327.15 358.8,328.8 357.66,330.45 356.54,332.1 355.46,333.75 354.43,335.4 353.48,337.05 352.62,338.7 351.87,340.35 351.23,341.99 350.73,343.64 350.36,345.29 350.13,346.94 350.06,348.59" fill="none" stroke="#a3a8ab" stroke-width="1" opacity="0.7"/>
<polygon points="350.06,349.09 350.13,347.44 350.36,345.79 350.73,344.14 351.23,342.49 351.87,340.85 352.62,339.2 353.48,337.55 354.43,335.9 355.46,334.25 356.54,332.6 357.66,330.95 358.8,329.3 360.14,327.65 361.47,326 362.74,324.35 363.95,322.7 365.07,321.05 366.08,319.4 366.97,317.75 367.72,316.11 368.32,314.46 368.75,312.81 369.01,311.16 369.1,309.51 369.3,309.51 369.3,340 369.1,340 369.01,341.46 368.75,342.92 368.32,344.38 367.72,345.83 366.97,347.29 366.08,348.75 365.07,350.21 363.95,351.67 362.74,353.12 361.47,354.58 360.14,356.04 358.8,357.5 357.46,358.96 356.13,360.42 354.86,361.88 353.65,363.33 352.53,364.79 351.52,366.25 350.63,367.71 349.88,369.17 349.28,370.62 348.85,372.08 348.59,373.54 348.5,375 348.3,375 348.3,349.09" fill="url(#blue3)"/>
</g>
<polygon points="358.8,41.5 369.3,47.5 369.7,49 369.7,52 369.2,59 368.6,65.5 349.1,65.5 348.4,59 347.9,53 347.9,49 348.3,47.5" fill="url(#blue3)"/>
<polygon points="358,41.7 359.1,41.5 369.4,47.5 369.5,50.17 368.5,49.77 359.4,43.97" fill="#a3a5a7"/>
<polyline points="348.3,47.9 358.5,42" fill="none" stroke="#86a4b4" stroke-width="0.9"/>
<path d="M352.81 62 L352.81 54.5 Q353.35 52 358.8 51.5 Q364.25 52 364.8 55.5 L364.8 58" fill="none" stroke="#1a86bd" stroke-width="0.7" opacity="0.3"/>
<rect x="455" y="62" width="21" height="365" fill="url(#cyl4)"/>
<path d="M455 426.5 L455 432.7 C455 439.45 452.7 441.7 452.7 447.7 L452.7 515.8 L454.2 517.3 C455.7 519.3 457.7 520.8 457.7 523.8 C457.7 526.8 455.2 528 453.7 530 L452.7 531.5 L452.7 552.6 Q452.7 555.6 455.7 555.6 L475.3 555.6 Q478.3 555.6 478.3 552.6 L478.3 531.5 L477.3 530 C475.8 528 473.3 526.8 473.3 523.8 C473.3 520.8 475.3 519.3 476.8 517.3 L478.3 515.8 L478.3 447.7 C478.3 441.7 476 439.45 476 432.7 L476 426.5Z" fill="url(#hex4)"/>
<path d="M455 426.5 L455 432.7 C455 439.45 452.7 441.7 452.7 447.7 Q457.82 444.2 459.61 446.7 Q466.78 442.2 474.46 446.7 Q476.38 444.7 478.3 447.7 C478.3 441.7 476 439.45 476 432.7 L476 426.5Z" fill="url(#neck4)"/>
<rect x="452.7" y="517.3" width="25.6" height="13.7" fill="url(#gr4)" clip-path="url(#hc4)"/>
<rect x="452.7" y="552.6" width="25.6" height="3" fill="#000" opacity="0.08" clip-path="url(#hc4)"/>
<rect x="453.5" y="62" width="24" height="282.91" fill="#fff"/>
<g clip-path="url(#clip4)">
<rect x="454" y="62" width="23" height="319" fill="url(#cyl4)"/>
<polygon points="454,62 477,62 477,316.69 476.8,316.69 476.7,318.39 476.41,320.09 475.94,321.79 475.29,323.49 474.46,325.2 473.49,326.9 472.38,328.6 471.15,330.3 469.82,332 468.42,333.7 466.97,335.4 465.5,337.1 464.24,338.8 463,340.5 461.8,342.2 460.67,343.9 459.62,345.6 458.67,347.3 457.84,349 457.13,350.71 456.58,352.41 456.17,354.11 455.92,355.81 455.84,357.51 454,357.51" fill="url(#st4)" opacity="0.55"/>
<polygon points="454,61 477,61 477,61.29 475.16,61.29 475.08,62.99 474.83,64.69 474.42,66.39 473.87,68.09 473.16,69.8 472.33,71.5 471.38,73.2 470.33,74.9 469.2,76.6 468,78.3 466.76,80 465.5,81.7 464.03,83.4 462.58,85.1 461.18,86.8 459.85,88.5 458.62,90.2 457.51,91.9 456.54,93.6 455.71,95.31 455.06,97.01 454.59,98.71 454.3,100.41 454.2,102.11 454,102.11" fill="url(#blue4)"/>
<polyline points="475.16,62.09 475.08,63.79 474.83,65.49 474.42,67.19 473.87,68.89 473.16,70.6 472.33,72.3 471.38,74 470.33,75.7 469.2,77.4 468,79.1 466.76,80.8 465.5,82.5 464.03,84.2 462.58,85.9 461.18,87.6 459.85,89.3 458.62,91 457.51,92.7 456.54,94.4 455.71,96.11 455.06,97.81 454.59,99.51 454.3,101.21 454.2,102.91" fill="none" stroke="#858a8e" stroke-width="1.47" opacity="0.9"/>
<polyline points="476.8,71.29 476.7,72.99 476.41,74.69 475.94,76.39 475.29,78.09 474.46,79.8 473.49,81.5 472.38,83.2 471.15,84.9 469.82,86.6 468.42,88.3 466.97,90 465.5,91.7 464.24,93.4 463,95.1 461.8,96.8 460.67,98.5 459.62,100.2 458.67,101.9 457.84,103.6 457.13,105.31 456.58,107.01 456.17,108.71 455.92,110.41 455.84,112.11" fill="none" stroke="#a3a8ab" stroke-width="1" opacity="0.7"/>
<polygon points="455.84,112.61 455.92,110.91 456.17,109.21 456.58,107.51 457.13,105.81 457.84,104.1 458.67,102.4 459.62,100.7 460.67,99 461.8,97.3 463,95.6 464.24,93.9 465.5,92.2 466.97,90.5 468.42,88.8 469.82,87.1 471.15,85.4 472.38,83.7 473.49,82 474.46,80.3 475.29,78.59 475.94,76.89 476.41,75.19 476.7,73.49 476.8,71.79 477,71.79 477,102.79 475.16,102.79 475.08,104.49 474.83,106.19 474.42,107.89 473.87,109.59 473.16,111.3 472.33,113 471.38,114.7 470.33,116.4 469.2,118.1 468,119.8 466.76,121.5 465.5,123.2 464.03,124.9 462.58,126.6 461.18,128.3 459.85,130 458.62,131.7 457.51,133.4 456.54,135.1 455.71,136.81 455.06,138.51 454.59,140.21 454.3,141.91 454.2,143.61 454,143.61 454,112.61" fill="url(#blue4)"/>
<polyline points="475.16,103.59 475.08,105.29 474.83,106.99 474.42,108.69 473.87,110.39 473.16,112.1 472.33,113.8 471.38,115.5 470.33,117.2 469.2,118.9 468,120.6 466.76,122.3 465.5,124 464.03,125.7 462.58,127.4 461.18,129.1 459.85,130.8 458.62,132.5 457.51,134.2 456.54,135.9 455.71,137.61 455.06,139.31 454.59,141.01 454.3,142.71 454.2,144.41" fill="none" stroke="#858a8e" stroke-width="1.47" opacity="0.9"/>
<polyline points="476.8,112.79 476.7,114.49 476.41,116.19 475.94,117.89 475.29,119.59 474.46,121.3 473.49,123 472.38,124.7 471.15,126.4 469.82,128.1 468.42,129.8 466.97,131.5 465.5,133.2 464.24,134.9 463,136.6 461.8,138.3 460.67,140 459.62,141.7 458.67,143.4 457.84,145.1 457.13,146.81 456.58,148.51 456.17,150.21 455.92,151.91 455.84,153.61" fill="none" stroke="#a3a8ab" stroke-width="1" opacity="0.7"/>
<polygon points="455.84,154.11 455.92,152.41 456.17,150.71 456.58,149.01 457.13,147.31 457.84,145.6 458.67,143.9 459.62,142.2 460.67,140.5 461.8,138.8 463,137.1 464.24,135.4 465.5,133.7 466.97,132 468.42,130.3 469.82,128.6 471.15,126.9 472.38,125.2 473.49,123.5 474.46,121.8 475.29,120.09 475.94,118.39 476.41,116.69 476.7,114.99 476.8,113.29 477,113.29 477,143.09 475.16,143.09 475.08,144.79 474.83,146.49 474.42,148.19 473.87,149.89 473.16,151.6 472.33,153.3 471.38,155 470.33,156.7 469.2,158.4 468,160.1 466.76,161.8 465.5,163.5 464.03,165.2 462.58,166.9 461.18,168.6 459.85,170.3 458.62,172 457.51,173.7 456.54,175.4 455.71,177.11 455.06,178.81 454.59,180.51 454.3,182.21 454.2,183.91 454,183.91 454,154.11" fill="url(#blue4)"/>
<polyline points="475.16,143.89 475.08,145.59 474.83,147.29 474.42,148.99 473.87,150.69 473.16,152.4 472.33,154.1 471.38,155.8 470.33,157.5 469.2,159.2 468,160.9 466.76,162.6 465.5,164.3 464.03,166 462.58,167.7 461.18,169.4 459.85,171.1 458.62,172.8 457.51,174.5 456.54,176.2 455.71,177.91 455.06,179.61 454.59,181.31 454.3,183.01 454.2,184.71" fill="none" stroke="#858a8e" stroke-width="1.47" opacity="0.9"/>
<polyline points="476.8,153.09 476.7,154.79 476.41,156.49 475.94,158.19 475.29,159.89 474.46,161.6 473.49,163.3 472.38,165 471.15,166.7 469.82,168.4 468.42,170.1 466.97,171.8 465.5,173.5 464.24,175.2 463,176.9 461.8,178.6 460.67,180.3 459.62,182 458.67,183.7 457.84,185.4 457.13,187.11 456.58,188.81 456.17,190.51 455.92,192.21 455.84,193.91" fill="none" stroke="#a3a8ab" stroke-width="1" opacity="0.7"/>
<polygon points="455.84,194.41 455.92,192.71 456.17,191.01 456.58,189.31 457.13,187.61 457.84,185.9 458.67,184.2 459.62,182.5 460.67,180.8 461.8,179.1 463,177.4 464.24,175.7 465.5,174 466.97,172.3 468.42,170.6 469.82,168.9 471.15,167.2 472.38,165.5 473.49,163.8 474.46,162.1 475.29,160.39 475.94,158.69 476.41,156.99 476.7,155.29 476.8,153.59 477,153.59 477,185.19 475.16,185.19 475.08,186.89 474.83,188.59 474.42,190.29 473.87,191.99 473.16,193.7 472.33,195.4 471.38,197.1 470.33,198.8 469.2,200.5 468,202.2 466.76,203.9 465.5,205.6 464.03,207.3 462.58,209 461.18,210.7 459.85,212.4 458.62,214.1 457.51,215.8 456.54,217.5 455.71,219.21 455.06,220.91 454.59,222.61 454.3,224.31 454.2,226.01 454,226.01 454,194.41" fill="url(#blue4)"/>
<polyline points="475.16,185.99 475.08,187.69 474.83,189.39 474.42,191.09 473.87,192.79 473.16,194.5 472.33,196.2 471.38,197.9 470.33,199.6 469.2,201.3 468,203 466.76,204.7 465.5,206.4 464.03,208.1 462.58,209.8 461.18,211.5 459.85,213.2 458.62,214.9 457.51,216.6 456.54,218.3 455.71,220.01 455.06,221.71 454.59,223.41 454.3,225.11 454.2,226.81" fill="none" stroke="#858a8e" stroke-width="1.47" opacity="0.9"/>
<polyline points="476.8,195.19 476.7,196.89 476.41,198.59 475.94,200.29 475.29,201.99 474.46,203.7 473.49,205.4 472.38,207.1 471.15,208.8 469.82,210.5 468.42,212.2 466.97,213.9 465.5,215.6 464.24,217.3 463,219 461.8,220.7 460.67,222.4 459.62,224.1 458.67,225.8 457.84,227.5 457.13,229.21 456.58,230.91 456.17,232.61 455.92,234.31 455.84,236.01" fill="none" stroke="#a3a8ab" stroke-width="1" opacity="0.7"/>
<polygon points="455.84,236.51 455.92,234.81 456.17,233.11 456.58,231.41 457.13,229.71 457.84,228 458.67,226.3 459.62,224.6 460.67,222.9 461.8,221.2 463,219.5 464.24,217.8 465.5,216.1 466.97,214.4 468.42,212.7 469.82,211 471.15,209.3 472.38,207.6 473.49,205.9 474.46,204.2 475.29,202.49 475.94,200.79 476.41,199.09 476.7,197.39 476.8,195.69 477,195.69 477,225.59 475.16,225.59 475.08,227.29 474.83,228.99 474.42,230.69 473.87,232.39 473.16,234.1 472.33,235.8 471.38,237.5 470.33,239.2 469.2,240.9 468,242.6 466.76,244.3 465.5,246 464.03,247.7 462.58,249.4 461.18,251.1 459.85,252.8 458.62,254.5 457.51,256.2 456.54,257.9 455.71,259.61 455.06,261.31 454.59,263.01 454.3,264.71 454.2,266.41 454,266.41 454,236.51" fill="url(#blue4)"/>
<polyline points="475.16,226.39 475.08,228.09 474.83,229.79 474.42,231.49 473.87,233.19 473.16,234.9 472.33,236.6 471.38,238.3 470.33,240 469.2,241.7 468,243.4 466.76,245.1 465.5,246.8 464.03,248.5 462.58,250.2 461.18,251.9 459.85,253.6 458.62,255.3 457.51,257 456.54,258.7 455.71,260.41 455.06,262.11 454.59,263.81 454.3,265.51 454.2,267.21" fill="none" stroke="#858a8e" stroke-width="1.47" opacity="0.9"/>
<polyline points="476.8,235.59 476.7,237.29 476.41,238.99 475.94,240.69 475.29,242.39 474.46,244.1 473.49,245.8 472.38,247.5 471.15,249.2 469.82,250.9 468.42,252.6 466.97,254.3 465.5,256 464.24,257.7 463,259.4 461.8,261.1 460.67,262.8 459.62,264.5 458.67,266.2 457.84,267.9 457.13,269.61 456.58,271.31 456.17,273.01 455.92,274.71 455.84,276.41" fill="none" stroke="#a3a8ab" stroke-width="1" opacity="0.7"/>
<polygon points="455.84,276.91 455.92,275.21 456.17,273.51 456.58,271.81 457.13,270.11 457.84,268.4 458.67,266.7 459.62,265 460.67,263.3 461.8,261.6 463,259.9 464.24,258.2 465.5,256.5 466.97,254.8 468.42,253.1 469.82,251.4 471.15,249.7 472.38,248 473.49,246.3 474.46,244.6 475.29,242.89 475.94,241.19 476.41,239.49 476.7,237.79 476.8,236.09 477,236.09 477,265.89 475.16,265.89 475.08,267.59 474.83,269.29 474.42,270.99 473.87,272.69 473.16,274.4 472.33,276.1 471.38,277.8 470.33,279.5 469.2,281.2 468,282.9 466.76,284.6 465.5,286.3 464.03,288 462.58,289.7 461.18,291.4 459.85,293.1 458.62,294.8 457.51,296.5 456.54,298.2 455.71,299.91 455.06,301.61 454.59,303.31 454.3,305.01 454.2,306.71 454,306.71 454,276.91" fill="url(#blue4)"/>
<polyline points="475.16,266.69 475.08,268.39 474.83,270.09 474.42,271.79 473.87,273.49 473.16,275.2 472.33,276.9 471.38,278.6 470.33,280.3 469.2,282 468,283.7 466.76,285.4 465.5,287.1 464.03,288.8 462.58,290.5 461.18,292.2 459.85,293.9 458.62,295.6 457.51,297.3 456.54,299 455.71,300.71 455.06,302.41 454.59,304.11 454.3,305.81 454.2,307.51" fill="none" stroke="#858a8e" stroke-width="1.47" opacity="0.9"/>
<polyline points="476.8,275.89 476.7,277.59 476.41,279.29 475.94,280.99 475.29,282.69 474.46,284.4 473.49,286.1 472.38,287.8 471.15,289.5 469.82,291.2 468.42,292.9 466.97,294.6 465.5,296.3 464.24,298 463,299.7 461.8,301.4 460.67,303.1 459.62,304.8 458.67,306.5 457.84,308.2 457.13,309.91 456.58,311.61 456.17,313.31 455.92,315.01 455.84,316.71" fill="none" stroke="#a3a8ab" stroke-width="1" opacity="0.7"/>
<polygon points="455.84,317.21 455.92,315.51 456.17,313.81 456.58,312.11 457.13,310.41 457.84,308.7 458.67,307 459.62,305.3 460.67,303.6 461.8,301.9 463,300.2 464.24,298.5 465.5,296.8 466.97,295.1 468.42,293.4 469.82,291.7 471.15,290 472.38,288.3 473.49,286.6 474.46,284.9 475.29,283.19 475.94,281.49 476.41,279.79 476.7,278.09 476.8,276.39 477,276.39 477,306.19 475.16,306.19 475.08,307.89 474.83,309.59 474.42,311.29 473.87,312.99 473.16,314.7 472.33,316.4 471.38,318.1 470.33,319.8 469.2,321.5 468,323.2 466.76,324.9 465.5,326.6 464.03,328.3 462.58,330 461.18,331.7 459.85,333.4 458.62,335.1 457.51,336.8 456.54,338.5 455.71,340.21 455.06,341.91 454.59,343.61 454.3,345.31 454.2,347.01 454,347.01 454,317.21" fill="url(#blue4)"/>
<polyline points="475.16,306.99 475.08,308.69 474.83,310.39 474.42,312.09 473.87,313.79 473.16,315.5 472.33,317.2 471.38,318.9 470.33,320.6 469.2,322.3 468,324 466.76,325.7 465.5,327.4 464.03,329.1 462.58,330.8 461.18,332.5 459.85,334.2 458.62,335.9 457.51,337.6 456.54,339.3 455.71,341.01 455.06,342.71 454.59,344.41 454.3,346.11 454.2,347.81" fill="none" stroke="#858a8e" stroke-width="1.47" opacity="0.9"/>
<polyline points="476.8,316.19 476.7,317.89 476.41,319.59 475.94,321.29 475.29,322.99 474.46,324.7 473.49,326.4 472.38,328.1 471.15,329.8 469.82,331.5 468.42,333.2 466.97,334.9 465.5,336.6 464.24,338.3 463,340 461.8,341.7 460.67,343.4 459.62,345.1 458.67,346.8 457.84,348.5 457.13,350.21 456.58,351.91 456.17,353.61 455.92,355.31 455.84,357.01" fill="none" stroke="#a3a8ab" stroke-width="1" opacity="0.7"/>
<polygon points="455.84,357.51 455.92,355.81 456.17,354.11 456.58,352.41 457.13,350.71 457.84,349 458.67,347.3 459.62,345.6 460.67,343.9 461.8,342.2 463,340.5 464.24,338.8 465.5,337.1 466.97,335.4 468.42,333.7 469.82,332 471.15,330.3 472.38,328.6 473.49,326.9 474.46,325.2 475.29,323.49 475.94,321.79 476.41,320.09 476.7,318.39 476.8,316.69 477,316.69 477,349 476.8,349 476.7,350.29 476.41,351.58 475.94,352.88 475.29,354.17 474.46,355.46 473.49,356.75 472.38,358.04 471.15,359.33 469.82,360.62 468.42,361.92 466.97,363.21 465.5,364.5 464.03,365.79 462.58,367.08 461.18,368.38 459.85,369.67 458.62,370.96 457.51,372.25 456.54,373.54 455.71,374.83 455.06,376.12 454.59,377.42 454.3,378.71 454.2,380 454,380 454,357.51" fill="url(#blue4)"/>
</g>
<polygon points="465.5,42.4 477.9,48.5 478.3,50 478.3,50 477.8,57 476.3,63.5 454.8,63.5 453.2,57 452.7,51 452.7,50 453.1,48.5" fill="url(#blue4)"/>
<polygon points="464.7,42.6 465.8,42.4 478,48.5 478.1,51.53 477.1,51.13 466.1,45.23" fill="#a3a5a7"/>
<polyline points="453.1,48.9 465.2,42.9" fill="none" stroke="#86a4b4" stroke-width="0.9"/>
<path d="M458.46 60 L458.46 55.5 Q459.1 53 465.5 52.5 Q471.9 53 472.54 56.5 L472.54 56" fill="none" stroke="#1a86bd" stroke-width="0.7" opacity="0.3"/>
<rect x="562.05" y="70" width="24.7" height="377" fill="url(#cyl5)"/>
<path d="M562.05 446.5 L562.65 449.5 L562.65 515.8 L564.15 517.3 C565.65 519.3 566.6 520.8 566.6 523.8 C566.6 526.8 565.15 528 563.65 530 L562.65 531.5 L562.65 552.6 Q562.65 555.6 565.65 555.6 L583.15 555.6 Q586.15 555.6 586.15 552.6 L586.15 531.5 L585.15 530 C583.65 528 582.2 526.8 582.2 523.8 C582.2 520.8 583.15 519.3 584.65 517.3 L586.15 515.8 L586.15 449.5 L586.75 446.5Z" fill="url(#hex5)"/>
<path d="M562.05 446.5 L562.65 449.5 L586.15 449.5 L586.75 446.5Z" fill="#807d7b"/>
<rect x="562.05" y="445.9" width="24.7" height="1.2" fill="#77757a" opacity="0.55"/>
<rect x="562.65" y="517.3" width="23.5" height="13.7" fill="url(#gr5)" clip-path="url(#hc5)"/>
<rect x="562.65" y="552.6" width="23.5" height="3" fill="#000" opacity="0.08" clip-path="url(#hc5)"/>
<rect x="560.55" y="70" width="27.7" height="281.4" fill="#fff"/>
<g clip-path="url(#clip5)">
<rect x="561.05" y="70" width="26.7" height="323" fill="url(#cyl5)"/>
<polygon points="561.05,70 587.75,70 587.75,308.98 587.55,308.98 587.44,311.44 587.1,313.9 586.55,316.36 585.79,318.82 584.83,321.28 583.7,323.74 582.41,326.2 580.98,328.66 579.43,331.12 577.8,333.58 576.12,336.04 574.4,338.5 572.92,340.96 571.46,343.42 570.05,345.88 568.72,348.34 567.48,350.8 566.37,353.26 565.39,355.72 564.56,358.18 563.9,360.64 563.43,363.1 563.14,365.56 563.04,368.02 561.05,368.02" fill="url(#st5)" opacity="0.55"/>
<polygon points="561.05,69 587.75,69 587.75,60.77 585.76,60.77 585.66,63.24 585.37,65.7 584.9,68.16 584.24,70.62 583.41,73.08 582.43,75.54 581.32,78 580.08,80.46 578.75,82.92 577.34,85.38 575.88,87.84 574.4,90.3 572.68,92.76 571,95.22 569.37,97.68 567.82,100.14 566.39,102.6 565.1,105.06 563.97,107.52 563.01,109.98 562.25,112.44 561.7,114.9 561.36,117.36 561.25,119.82 561.05,119.82" fill="url(#blue5)"/>
<polyline points="585.76,61.57 585.66,64.04 585.37,66.5 584.9,68.96 584.24,71.42 583.41,73.88 582.43,76.34 581.32,78.8 580.08,81.26 578.75,83.72 577.34,86.18 575.88,88.64 574.4,91.1 572.68,93.56 571,96.02 569.37,98.48 567.82,100.94 566.39,103.4 565.1,105.86 563.97,108.32 563.01,110.78 562.25,113.24 561.7,115.7 561.36,118.16 561.25,120.62" fill="none" stroke="#858a8e" stroke-width="1.68" opacity="0.9"/>
<polyline points="587.55,72.28 587.44,74.74 587.1,77.2 586.55,79.66 585.79,82.12 584.83,84.58 583.7,87.04 582.41,89.5 580.98,91.96 579.43,94.42 577.8,96.88 576.12,99.34 574.4,101.8 572.92,104.26 571.46,106.72 570.05,109.18 568.72,111.64 567.48,114.1 566.37,116.56 565.39,119.02 564.56,121.48 563.9,123.94 563.43,126.4 563.14,128.86 563.04,131.32" fill="none" stroke="#a3a8ab" stroke-width="1" opacity="0.7"/>
<polygon points="563.04,131.82 563.14,129.36 563.43,126.9 563.9,124.44 564.56,121.98 565.39,119.52 566.37,117.06 567.48,114.6 568.72,112.14 570.05,109.68 571.46,107.22 572.92,104.76 574.4,102.3 576.12,99.84 577.8,97.38 579.43,94.92 580.98,92.46 582.41,90 583.7,87.54 584.83,85.08 585.79,82.62 586.55,80.16 587.1,77.7 587.44,75.24 587.55,72.78 587.75,72.78 587.75,121.47 585.76,121.47 585.66,123.94 585.37,126.4 584.9,128.86 584.24,131.32 583.41,133.78 582.43,136.24 581.32,138.7 580.08,141.16 578.75,143.62 577.34,146.08 575.88,148.54 574.4,151 572.68,153.46 571,155.92 569.37,158.38 567.82,160.84 566.39,163.3 565.1,165.76 563.97,168.22 563.01,170.68 562.25,173.14 561.7,175.6 561.36,178.06 561.25,180.53 561.05,180.53 561.05,131.82" fill="url(#blue5)"/>
<polyline points="585.76,122.27 585.66,124.74 585.37,127.2 584.9,129.66 584.24,132.12 583.41,134.58 582.43,137.04 581.32,139.5 580.08,141.96 578.75,144.42 577.34,146.88 575.88,149.34 574.4,151.8 572.68,154.26 571,156.72 569.37,159.18 567.82,161.64 566.39,164.1 565.1,166.56 563.97,169.02 563.01,171.48 562.25,173.94 561.7,176.4 561.36,178.86 561.25,181.33" fill="none" stroke="#858a8e" stroke-width="1.68" opacity="0.9"/>
<polyline points="587.55,132.97 587.44,135.44 587.1,137.9 586.55,140.36 585.79,142.82 584.83,145.28 583.7,147.74 582.41,150.2 580.98,152.66 579.43,155.12 577.8,157.58 576.12,160.04 574.4,162.5 572.92,164.96 571.46,167.42 570.05,169.88 568.72,172.34 567.48,174.8 566.37,177.26 565.39,179.72 564.56,182.18 563.9,184.64 563.43,187.1 563.14,189.56 563.04,192.03" fill="none" stroke="#a3a8ab" stroke-width="1" opacity="0.7"/>
<polygon points="563.04,192.53 563.14,190.06 563.43,187.6 563.9,185.14 564.56,182.68 565.39,180.22 566.37,177.76 567.48,175.3 568.72,172.84 570.05,170.38 571.46,167.92 572.92,165.46 574.4,163 576.12,160.54 577.8,158.08 579.43,155.62 580.98,153.16 582.41,150.7 583.7,148.24 584.83,145.78 585.79,143.32 586.55,140.86 587.1,138.4 587.44,135.94 587.55,133.47 587.75,133.47 587.75,180.17 585.76,180.17 585.66,182.64 585.37,185.1 584.9,187.56 584.24,190.02 583.41,192.48 582.43,194.94 581.32,197.4 580.08,199.86 578.75,202.32 577.34,204.78 575.88,207.24 574.4,209.7 572.68,212.16 571,214.62 569.37,217.08 567.82,219.54 566.39,222 565.1,224.46 563.97,226.92 563.01,229.38 562.25,231.84 561.7,234.3 561.36,236.76 561.25,239.22 561.05,239.22 561.05,192.53" fill="url(#blue5)"/>
<polyline points="585.76,180.97 585.66,183.44 585.37,185.9 584.9,188.36 584.24,190.82 583.41,193.28 582.43,195.74 581.32,198.2 580.08,200.66 578.75,203.12 577.34,205.58 575.88,208.04 574.4,210.5 572.68,212.96 571,215.42 569.37,217.88 567.82,220.34 566.39,222.8 565.1,225.26 563.97,227.72 563.01,230.18 562.25,232.64 561.7,235.1 561.36,237.56 561.25,240.03" fill="none" stroke="#858a8e" stroke-width="1.68" opacity="0.9"/>
<polyline points="587.55,191.67 587.44,194.14 587.1,196.6 586.55,199.06 585.79,201.52 584.83,203.98 583.7,206.44 582.41,208.9 580.98,211.36 579.43,213.82 577.8,216.28 576.12,218.74 574.4,221.2 572.92,223.66 571.46,226.12 570.05,228.58 568.72,231.04 567.48,233.5 566.37,235.96 565.39,238.42 564.56,240.88 563.9,243.34 563.43,245.8 563.14,248.26 563.04,250.72" fill="none" stroke="#a3a8ab" stroke-width="1" opacity="0.7"/>
<polygon points="563.04,251.22 563.14,248.76 563.43,246.3 563.9,243.84 564.56,241.38 565.39,238.92 566.37,236.46 567.48,234 568.72,231.54 570.05,229.08 571.46,226.62 572.92,224.16 574.4,221.7 576.12,219.24 577.8,216.78 579.43,214.32 580.98,211.86 582.41,209.4 583.7,206.94 584.83,204.48 585.79,202.02 586.55,199.56 587.1,197.1 587.44,194.64 587.55,192.17 587.75,192.17 587.75,238.28 585.76,238.28 585.66,240.74 585.37,243.2 584.9,245.66 584.24,248.12 583.41,250.58 582.43,253.04 581.32,255.5 580.08,257.96 578.75,260.42 577.34,262.88 575.88,265.34 574.4,267.8 572.68,270.26 571,272.72 569.37,275.18 567.82,277.64 566.39,280.1 565.1,282.56 563.97,285.02 563.01,287.48 562.25,289.94 561.7,292.4 561.36,294.86 561.25,297.32 561.05,297.32 561.05,251.22" fill="url(#blue5)"/>
<polyline points="585.76,239.08 585.66,241.54 585.37,244 584.9,246.46 584.24,248.92 583.41,251.38 582.43,253.84 581.32,256.3 580.08,258.76 578.75,261.22 577.34,263.68 575.88,266.14 574.4,268.6 572.68,271.06 571,273.52 569.37,275.98 567.82,278.44 566.39,280.9 565.1,283.36 563.97,285.82 563.01,288.28 562.25,290.74 561.7,293.2 561.36,295.66 561.25,298.12" fill="none" stroke="#858a8e" stroke-width="1.68" opacity="0.9"/>
<polyline points="587.55,249.78 587.44,252.24 587.1,254.7 586.55,257.16 585.79,259.62 584.83,262.08 583.7,264.54 582.41,267 580.98,269.46 579.43,271.92 577.8,274.38 576.12,276.84 574.4,279.3 572.92,281.76 571.46,284.22 570.05,286.68 568.72,289.14 567.48,291.6 566.37,294.06 565.39,296.52 564.56,298.98 563.9,301.44 563.43,303.9 563.14,306.36 563.04,308.82" fill="none" stroke="#a3a8ab" stroke-width="1" opacity="0.7"/>
<polygon points="563.04,309.32 563.14,306.86 563.43,304.4 563.9,301.94 564.56,299.48 565.39,297.02 566.37,294.56 567.48,292.1 568.72,289.64 570.05,287.18 571.46,284.72 572.92,282.26 574.4,279.8 576.12,277.34 577.8,274.88 579.43,272.42 580.98,269.96 582.41,267.5 583.7,265.04 584.83,262.58 585.79,260.12 586.55,257.66 587.1,255.2 587.44,252.74 587.55,250.28 587.75,250.28 587.75,296.98 585.76,296.98 585.66,299.44 585.37,301.9 584.9,304.36 584.24,306.82 583.41,309.28 582.43,311.74 581.32,314.2 580.08,316.66 578.75,319.12 577.34,321.58 575.88,324.04 574.4,326.5 572.68,328.96 571,331.42 569.37,333.88 567.82,336.34 566.39,338.8 565.1,341.26 563.97,343.72 563.01,346.18 562.25,348.64 561.7,351.1 561.36,353.56 561.25,356.02 561.05,356.02 561.05,309.32" fill="url(#blue5)"/>
<polyline points="585.76,297.78 585.66,300.24 585.37,302.7 584.9,305.16 584.24,307.62 583.41,310.08 582.43,312.54 581.32,315 580.08,317.46 578.75,319.92 577.34,322.38 575.88,324.84 574.4,327.3 572.68,329.76 571,332.22 569.37,334.68 567.82,337.14 566.39,339.6 565.1,342.06 563.97,344.52 563.01,346.98 562.25,349.44 561.7,351.9 561.36,354.36 561.25,356.82" fill="none" stroke="#858a8e" stroke-width="1.68" opacity="0.9"/>
<polyline points="587.55,308.48 587.44,310.94 587.1,313.4 586.55,315.86 585.79,318.32 584.83,320.78 583.7,323.24 582.41,325.7 580.98,328.16 579.43,330.62 577.8,333.08 576.12,335.54 574.4,338 572.92,340.46 571.46,342.92 570.05,345.38 568.72,347.84 567.48,350.3 566.37,352.76 565.39,355.22 564.56,357.68 563.9,360.14 563.43,362.6 563.14,365.06 563.04,367.52" fill="none" stroke="#a3a8ab" stroke-width="1" opacity="0.7"/>
<polygon points="563.04,368.02 563.14,365.56 563.43,363.1 563.9,360.64 564.56,358.18 565.39,355.72 566.37,353.26 567.48,350.8 568.72,348.34 570.05,345.88 571.46,343.42 572.92,340.96 574.4,338.5 576.12,336.04 577.8,333.58 579.43,331.12 580.98,328.66 582.41,326.2 583.7,323.74 584.83,321.28 585.79,318.82 586.55,316.36 587.1,313.9 587.44,311.44 587.55,308.98 587.75,308.98 587.75,344 587.55,344 587.44,346 587.1,348 586.55,350 585.79,352 584.83,354 583.7,356 582.41,358 580.98,360 579.43,362 577.8,364 576.12,366 574.4,368 572.68,370 571,372 569.37,374 567.82,376 566.39,378 565.1,380 563.97,382 563.01,384 562.25,386 561.7,388 561.36,390 561.25,392 561.05,392 561.05,368.02" fill="url(#blue5)"/>
</g>
<polygon points="574.4,40.6 588.75,49.4 589.15,50.9 589.15,58 588.65,65 587.05,71.5 561.85,71.5 560.15,65 559.65,59 559.65,50.9 560.05,49.4" fill="url(#blue5)"/>
<polygon points="573.6,40.8 574.7,40.6 588.85,49.4 588.95,52.8 587.95,52.4 575,43.8" fill="#a3a5a7"/>
<polyline points="560.05,49.8 574.1,41.1" fill="none" stroke="#86a4b4" stroke-width="0.9"/>
<path d="M566.29 68 L566.29 56.4 Q567.02 53.9 574.4 53.4 Q581.77 53.9 582.51 57.4 L582.51 64" fill="none" stroke="#1a86bd" stroke-width="0.7" opacity="0.3"/>
<rect x="666.75" y="78" width="31.5" height="357" fill="url(#cyl6)"/>
<path d="M666.75 434.5 L671.25 446.8 L671.25 515.8 L672.75 517.3 C674.25 519.3 674.7 520.8 674.7 523.8 C674.7 526.8 673.75 528 672.25 530 L671.25 531.5 L671.25 552.6 Q671.25 555.6 674.25 555.6 L690.75 555.6 Q693.75 555.6 693.75 552.6 L693.75 531.5 L692.75 530 C691.25 528 690.3 526.8 690.3 523.8 C690.3 520.8 690.75 519.3 692.25 517.3 L693.75 515.8 L693.75 446.8 L698.25 434.5Z" fill="url(#hex6)"/>
<path d="M666.75 434.5 L671.25 446.8 L693.75 446.8 L698.25 434.5Z" fill="#807d7b"/>
<rect x="666.75" y="433.9" width="31.5" height="1.2" fill="#77757a" opacity="0.55"/>
<rect x="671.25" y="517.3" width="22.5" height="13.7" fill="url(#gr6)" clip-path="url(#hc6)"/>
<rect x="671.25" y="552.6" width="22.5" height="3" fill="#000" opacity="0.08" clip-path="url(#hc6)"/>
<rect x="665" y="78" width="35" height="222.16" fill="#fff"/>
<g clip-path="url(#clip6)">
<rect x="665.5" y="78" width="34" height="272" fill="url(#cyl6)"/>
<polygon points="665.5,78 699.5,78 699.5,258.3 699.3,258.3 699.16,260.81 698.73,263.32 698.02,265.82 697.05,268.33 695.83,270.84 694.38,273.35 692.73,275.86 690.9,278.37 688.93,280.88 686.85,283.38 684.69,285.89 682.5,288.4 680.58,290.91 678.69,293.42 676.87,295.92 675.14,298.43 673.54,300.94 672.09,303.45 670.82,305.96 669.75,308.47 668.9,310.97 668.28,313.48 667.91,315.99 667.78,318.5 665.5,318.5" fill="url(#st6)" opacity="0.55"/>
<polygon points="665.5,77 699.5,77 699.5,62.7 697.22,62.7 697.09,65.21 696.72,67.72 696.1,70.22 695.25,72.73 694.18,75.24 692.91,77.75 691.46,80.26 689.86,82.77 688.13,85.28 686.31,87.78 684.42,90.29 682.5,92.8 680.31,95.31 678.15,97.82 676.07,100.32 674.1,102.83 672.27,105.34 670.62,107.85 669.17,110.36 667.95,112.87 666.98,115.38 666.27,117.88 665.84,120.39 665.7,122.9 665.5,122.9" fill="url(#blue6)"/>
<polygon points="697.22,62.7 697.09,65.21 696.72,67.72 696.1,70.22 695.25,72.73 694.18,75.24 692.91,77.75 691.46,80.26 689.86,82.77 688.13,85.28 686.31,87.78 684.42,90.29 682.5,92.8 680.31,95.31 678.15,97.82 676.07,100.32 674.1,102.83 672.27,105.34 670.62,107.85 669.17,110.36 667.95,112.87 666.98,115.38 666.27,117.88 665.84,120.39 665.7,122.9 667.78,138.9 667.91,136.39 668.28,133.88 668.9,131.38 669.75,128.87 670.82,126.36 672.09,123.85 673.54,121.34 675.14,118.83 676.87,116.32 678.69,113.82 680.58,111.31 682.5,108.8 684.69,106.29 686.85,103.78 688.93,101.28 690.9,98.77 692.73,96.26 694.38,93.75 695.83,91.24 697.05,88.73 698.02,86.22 698.73,83.72 699.16,81.21 699.3,78.7" fill="#8f9396" opacity="0.8"/>
<polyline points="697.22,63.5 697.09,66.01 696.72,68.52 696.1,71.02 695.25,73.53 694.18,76.04 692.91,78.55 691.46,81.06 689.86,83.57 688.13,86.08 686.31,88.58 684.42,91.09 682.5,93.6 680.31,96.11 678.15,98.62 676.07,101.12 674.1,103.63 672.27,106.14 670.62,108.65 669.17,111.16 667.95,113.67 666.98,116.17 666.27,118.68 665.84,121.19 665.7,123.7" fill="none" stroke="#858a8e" stroke-width="2.08" opacity="0.9"/>
<polyline points="699.3,78.2 699.16,80.71 698.73,83.22 698.02,85.72 697.05,88.23 695.83,90.74 694.38,93.25 692.73,95.76 690.9,98.27 688.93,100.78 686.85,103.28 684.69,105.79 682.5,108.3 680.58,110.81 678.69,113.32 676.87,115.82 675.14,118.33 673.54,120.84 672.09,123.35 670.82,125.86 669.75,128.37 668.9,130.88 668.28,133.38 667.91,135.89 667.78,138.4" fill="none" stroke="#a3a8ab" stroke-width="1" opacity="0.7"/>
<polygon points="667.78,138.9 667.91,136.39 668.28,133.88 668.9,131.38 669.75,128.87 670.82,126.36 672.09,123.85 673.54,121.34 675.14,118.83 676.87,116.32 678.69,113.82 680.58,111.31 682.5,108.8 684.69,106.29 686.85,103.78 688.93,101.28 690.9,98.77 692.73,96.26 694.38,93.75 695.83,91.24 697.05,88.73 698.02,86.22 698.73,83.72 699.16,81.21 699.3,78.7 699.5,78.7 699.5,125.9 697.22,125.9 697.09,128.41 696.72,130.92 696.1,133.43 695.25,135.93 694.18,138.44 692.91,140.95 691.46,143.46 689.86,145.97 688.13,148.47 686.31,150.98 684.42,153.49 682.5,156 680.31,158.51 678.15,161.02 676.07,163.53 674.1,166.03 672.27,168.54 670.62,171.05 669.17,173.56 667.95,176.07 666.98,178.57 666.27,181.08 665.84,183.59 665.7,186.1 665.5,186.1 665.5,138.9" fill="url(#blue6)"/>
<polyline points="697.22,126.7 697.09,129.21 696.72,131.72 696.1,134.23 695.25,136.73 694.18,139.24 692.91,141.75 691.46,144.26 689.86,146.77 688.13,149.28 686.31,151.78 684.42,154.29 682.5,156.8 680.31,159.31 678.15,161.82 676.07,164.33 674.1,166.83 672.27,169.34 670.62,171.85 669.17,174.36 667.95,176.87 666.98,179.38 666.27,181.88 665.84,184.39 665.7,186.9" fill="none" stroke="#858a8e" stroke-width="2.08" opacity="0.9"/>
<polyline points="699.3,137.9 699.16,140.41 698.73,142.92 698.02,145.43 697.05,147.93 695.83,150.44 694.38,152.95 692.73,155.46 690.9,157.97 688.93,160.47 686.85,162.98 684.69,165.49 682.5,168 680.58,170.51 678.69,173.02 676.87,175.53 675.14,178.03 673.54,180.54 672.09,183.05 670.82,185.56 669.75,188.07 668.9,190.57 668.28,193.08 667.91,195.59 667.78,198.1" fill="none" stroke="#a3a8ab" stroke-width="1" opacity="0.7"/>
<polygon points="667.78,198.6 667.91,196.09 668.28,193.58 668.9,191.07 669.75,188.57 670.82,186.06 672.09,183.55 673.54,181.04 675.14,178.53 676.87,176.03 678.69,173.52 680.58,171.01 682.5,168.5 684.69,165.99 686.85,163.48 688.93,160.97 690.9,158.47 692.73,155.96 694.38,153.45 695.83,150.94 697.05,148.43 698.02,145.93 698.73,143.42 699.16,140.91 699.3,138.4 699.5,138.4 699.5,185.8 697.22,185.8 697.09,188.31 696.72,190.82 696.1,193.33 695.25,195.83 694.18,198.34 692.91,200.85 691.46,203.36 689.86,205.87 688.13,208.38 686.31,210.88 684.42,213.39 682.5,215.9 680.31,218.41 678.15,220.92 676.07,223.43 674.1,225.93 672.27,228.44 670.62,230.95 669.17,233.46 667.95,235.97 666.98,238.47 666.27,240.98 665.84,243.49 665.7,246 665.5,246 665.5,198.6" fill="url(#blue6)"/>
<polyline points="697.22,186.6 697.09,189.11 696.72,191.62 696.1,194.13 695.25,196.63 694.18,199.14 692.91,201.65 691.46,204.16 689.86,206.67 688.13,209.18 686.31,211.68 684.42,214.19 682.5,216.7 680.31,219.21 678.15,221.72 676.07,224.23 674.1,226.73 672.27,229.24 670.62,231.75 669.17,234.26 667.95,236.77 666.98,239.28 666.27,241.78 665.84,244.29 665.7,246.8" fill="none" stroke="#858a8e" stroke-width="2.08" opacity="0.9"/>
<polyline points="699.3,201.3 699.16,203.81 698.73,206.32 698.02,208.83 697.05,211.33 695.83,213.84 694.38,216.35 692.73,218.86 690.9,221.37 688.93,223.88 686.85,226.38 684.69,228.89 682.5,231.4 680.58,233.91 678.69,236.42 676.87,238.93 675.14,241.43 673.54,243.94 672.09,246.45 670.82,248.96 669.75,251.47 668.9,253.97 668.28,256.48 667.91,258.99 667.78,261.5" fill="none" stroke="#a3a8ab" stroke-width="1" opacity="0.7"/>
<polygon points="667.78,262 667.91,259.49 668.28,256.98 668.9,254.47 669.75,251.97 670.82,249.46 672.09,246.95 673.54,244.44 675.14,241.93 676.87,239.43 678.69,236.92 680.58,234.41 682.5,231.9 684.69,229.39 686.85,226.88 688.93,224.38 690.9,221.87 692.73,219.36 694.38,216.85 695.83,214.34 697.05,211.83 698.02,209.33 698.73,206.82 699.16,204.31 699.3,201.8 699.5,201.8 699.5,243.3 697.22,243.3 697.09,245.81 696.72,248.32 696.1,250.82 695.25,253.33 694.18,255.84 692.91,258.35 691.46,260.86 689.86,263.37 688.13,265.88 686.31,268.38 684.42,270.89 682.5,273.4 680.31,275.91 678.15,278.42 676.07,280.92 674.1,283.43 672.27,285.94 670.62,288.45 669.17,290.96 667.95,293.47 666.98,295.97 666.27,298.48 665.84,300.99 665.7,303.5 665.5,303.5 665.5,262" fill="url(#blue6)"/>
<polyline points="697.22,244.1 697.09,246.61 696.72,249.12 696.1,251.62 695.25,254.13 694.18,256.64 692.91,259.15 691.46,261.66 689.86,264.17 688.13,266.68 686.31,269.18 684.42,271.69 682.5,274.2 680.31,276.71 678.15,279.22 676.07,281.72 674.1,284.23 672.27,286.74 670.62,289.25 669.17,291.76 667.95,294.27 666.98,296.77 666.27,299.28 665.84,301.79 665.7,304.3" fill="none" stroke="#858a8e" stroke-width="2.08" opacity="0.9"/>
<polyline points="699.3,257.8 699.16,260.31 698.73,262.82 698.02,265.32 697.05,267.83 695.83,270.34 694.38,272.85 692.73,275.36 690.9,277.87 688.93,280.38 686.85,282.88 684.69,285.39 682.5,287.9 680.58,290.41 678.69,292.92 676.87,295.42 675.14,297.93 673.54,300.44 672.09,302.95 670.82,305.46 669.75,307.97 668.9,310.47 668.28,312.98 667.91,315.49 667.78,318" fill="none" stroke="#a3a8ab" stroke-width="1" opacity="0.7"/>
<polygon points="667.78,318.5 667.91,315.99 668.28,313.48 668.9,310.97 669.75,308.47 670.82,305.96 672.09,303.45 673.54,300.94 675.14,298.43 676.87,295.92 678.69,293.42 680.58,290.91 682.5,288.4 684.69,285.89 686.85,283.38 688.93,280.88 690.9,278.37 692.73,275.86 694.38,273.35 695.83,270.84 697.05,268.33 698.02,265.82 698.73,263.32 699.16,260.81 699.3,258.3 699.5,258.3 699.5,309 699.3,309 699.16,310.67 698.73,312.33 698.02,314 697.05,315.67 695.83,317.33 694.38,319 692.73,320.67 690.9,322.33 688.93,324 686.85,325.67 684.69,327.33 682.5,329 680.31,330.67 678.15,332.33 676.07,334 674.1,335.67 672.27,337.33 670.62,339 669.17,340.67 667.95,342.33 666.98,344 666.27,345.67 665.84,347.33 665.7,349 665.5,349 665.5,318.5" fill="url(#blue6)"/>
</g>
<polygon points="682.5,41 700.1,49.2 700.5,50.7 700.5,66 700,73 698.8,79.5 666.3,79.5 665,73 664.5,67 664.5,50.7 664.9,49.2" fill="url(#blue6)"/>
<polygon points="681.7,41.2 682.8,41 700.2,49.2 700.3,53.22 699.3,52.82 683.1,44.82" fill="#a3a5a7"/>
<polyline points="664.9,49.6 682.2,41.5" fill="none" stroke="#86a4b4" stroke-width="0.9"/>
<path d="M672.6 76 L672.6 56.2 Q673.5 53.7 682.5 53.2 Q691.5 53.7 692.4 57.2 L692.4 72" fill="none" stroke="#1a86bd" stroke-width="0.7" opacity="0.3"/>
<g><line x1="70.8" y1="219" x2="70.8" y2="380" stroke="#000" stroke-width="1.25"/><polygon points="70.8,215 68.1,222.2 73.5,222.2" fill="#111"/><polygon points="70.8,384 68.1,376.8 73.5,376.8" fill="#111"/><line x1="100.3" y1="219" x2="100.3" y2="551" stroke="#000" stroke-width="1.25"/><polygon points="100.3,215 97.6,222.2 103,222.2" fill="#111"/><polygon points="100.3,555 97.6,547.8 103,547.8" fill="#111"/><line x1="180.7" y1="219" x2="180.7" y2="411.5" stroke="#000" stroke-width="1.25"/><polygon points="180.7,215 178,222.2 183.4,222.2" fill="#111"/><polygon points="180.7,415.5 178,408.3 183.4,408.3" fill="#111"/><line x1="208.6" y1="219" x2="208.6" y2="551" stroke="#000" stroke-width="1.25"/><polygon points="208.6,215 205.9,222.2 211.3,222.2" fill="#111"/><polygon points="208.6,555 205.9,547.8 211.3,547.8" fill="#111"/><line x1="278" y1="219" x2="278" y2="411.5" stroke="#000" stroke-width="1.25"/><polygon points="278,215 275.3,222.2 280.7,222.2" fill="#111"/><polygon points="278,415.5 275.3,408.3 280.7,408.3" fill="#111"/><line x1="306" y1="219" x2="306" y2="551" stroke="#000" stroke-width="1.25"/><polygon points="306,215 303.3,222.2 308.7,222.2" fill="#111"/><polygon points="306,555 303.3,547.8 308.7,547.8" fill="#111"/><line x1="379" y1="47.6" x2="379" y2="349" stroke="#000" stroke-width="1.25"/><polygon points="379,43.6 376.3,50.8 381.7,50.8" fill="#111"/><polygon points="379,353 376.3,345.8 381.7,345.8" fill="#111"/><line x1="406.4" y1="47.6" x2="406.4" y2="551" stroke="#000" stroke-width="1.25"/><polygon points="406.4,43.6 403.7,50.8 409.1,50.8" fill="#111"/><polygon points="406.4,555 403.7,547.8 409.1,547.8" fill="#111"/><line x1="490" y1="47.6" x2="490" y2="348" stroke="#000" stroke-width="1.25"/><polygon points="490,43.6 487.3,50.8 492.7,50.8" fill="#111"/><polygon points="490,352 487.3,344.8 492.7,344.8" fill="#111"/><line x1="517.5" y1="47.6" x2="517.5" y2="551" stroke="#000" stroke-width="1.25"/><polygon points="517.5,43.6 514.8,50.8 520.2,50.8" fill="#111"/><polygon points="517.5,555 514.8,547.8 520.2,547.8" fill="#111"/><line x1="600.6" y1="47.6" x2="600.6" y2="349" stroke="#000" stroke-width="1.25"/><polygon points="600.6,43.6 597.9,50.8 603.3,50.8" fill="#111"/><polygon points="600.6,353 597.9,345.8 603.3,345.8" fill="#111"/><line x1="632.2" y1="47.6" x2="632.2" y2="551" stroke="#000" stroke-width="1.25"/><polygon points="632.2,43.6 629.5,50.8 634.9,50.8" fill="#111"/><polygon points="632.2,555 629.5,547.8 634.9,547.8" fill="#111"/><line x1="711.2" y1="47.6" x2="711.2" y2="348" stroke="#000" stroke-width="1.25"/><polygon points="711.2,43.6 708.5,50.8 713.9,50.8" fill="#111"/><polygon points="711.2,352 708.5,344.8 713.9,344.8" fill="#111"/><line x1="739" y1="47.6" x2="739" y2="551" stroke="#000" stroke-width="1.25"/><polygon points="739,43.6 736.3,50.8 741.7,50.8" fill="#111"/><polygon points="739,555 736.3,547.8 741.7,547.8" fill="#111"/></g>
<g opacity="0.999"><text transform="translate(84.6 299.4) rotate(-90)" text-anchor="middle" class="t">50 mm</text>
<text transform="translate(118.4 379.4) rotate(-90)" text-anchor="middle" class="t">100 mm</text>
<text x="52.3" y="15.7" text-anchor="middle" class="t">5,0 mm</text>
<text transform="translate(52.3 28.6) scale(0.86 1)" text-anchor="middle" class="o">Ø</text>
<text transform="translate(193.6 317.3) rotate(-90)" text-anchor="middle" class="t">60 mm</text>
<text transform="translate(224.5 379.4) rotate(-90)" text-anchor="middle" class="t">100 mm</text>
<text x="159.4" y="15.7" text-anchor="middle" class="t">5,5 mm</text>
<text transform="translate(159.4 28.6) scale(0.86 1)" text-anchor="middle" class="o">Ø</text>
<text transform="translate(291.8 317.3) rotate(-90)" text-anchor="middle" class="t">60 mm</text>
<text transform="translate(321.9 379.4) rotate(-90)" text-anchor="middle" class="t">100 mm</text>
<text x="256.9" y="15.7" text-anchor="middle" class="t">6,0 mm</text>
<text transform="translate(256.9 28.6) scale(0.86 1)" text-anchor="middle" class="o">Ø</text>
<text transform="translate(392.8 195) rotate(-90)" text-anchor="middle" class="t">90 mm</text>
<text transform="translate(424.5 292.4) rotate(-90)" text-anchor="middle" class="t">150 mm</text>
<text x="356.6" y="15.7" text-anchor="middle" class="t">6,0 mm</text>
<text transform="translate(356.6 28.6) scale(0.86 1)" text-anchor="middle" class="o">Ø</text>
<text transform="translate(504.5 195) rotate(-90)" text-anchor="middle" class="t">90 mm</text>
<text transform="translate(535.6 292.4) rotate(-90)" text-anchor="middle" class="t">150 mm</text>
<text x="464.4" y="15.7" text-anchor="middle" class="t">7,0 mm</text>
<text transform="translate(464.4 28.6) scale(0.86 1)" text-anchor="middle" class="o">Ø</text>
<text transform="translate(619.6 195) rotate(-90)" text-anchor="middle" class="t">90 mm</text>
<text transform="translate(650.3 292.4) rotate(-90)" text-anchor="middle" class="t">150 mm</text>
<text x="570.6" y="15.7" text-anchor="middle" class="t">8,0 mm</text>
<text transform="translate(570.6 28.6) scale(0.86 1)" text-anchor="middle" class="o">Ø</text>
<text transform="translate(726.5 195) rotate(-90)" text-anchor="middle" class="t">90 mm</text>
<text transform="translate(757.6 292.4) rotate(-90)" text-anchor="middle" class="t">150 mm</text>
<text x="681.5" y="15.7" text-anchor="middle" class="t">10,0 mm</text>
<text transform="translate(681.5 28.6) scale(0.86 1)" text-anchor="middle" class="o">Ø</text></g>
</svg>
</body></html>
